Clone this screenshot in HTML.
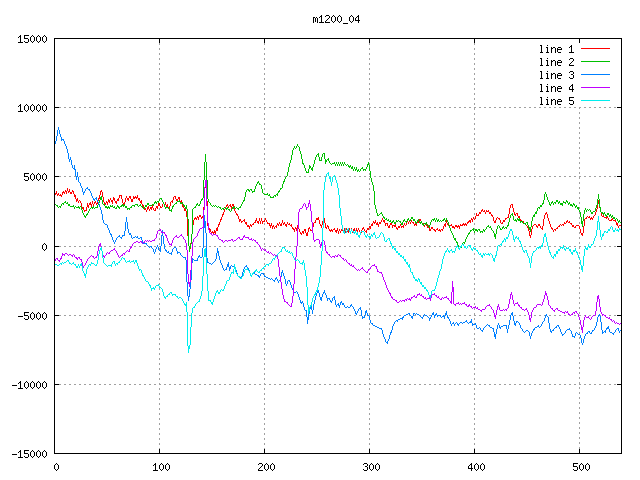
<!DOCTYPE html><html><head><meta charset="utf-8"><title>m1200_04</title>
<style>html,body{margin:0;padding:0;background:#fff;font-family:"Liberation Sans",sans-serif}svg{display:block}</style></head><body>
<svg width="640" height="480" viewBox="0 0 640 480" shape-rendering="crispEdges">
<rect width="640" height="480" fill="#fff"/>
<path d="M54 107.5H622M54 176.5H622M54 246.5H622M54 315.5H622M54 384.5H622M159.5 38V454M264.5 38V454M369.5 38V454M474.5 38V454M579.5 454V107" stroke="#a0a0a0" stroke-width="1" stroke-dasharray="2 3" fill="none"/>
<path d="M54 38h5v1h-5zM617 38h5v1h-5zM54 107h5v1h-5zM617 107h5v1h-5zM54 176h5v1h-5zM617 176h5v1h-5zM54 246h5v1h-5zM617 246h5v1h-5zM54 315h5v1h-5zM617 315h5v1h-5zM54 384h5v1h-5zM617 384h5v1h-5zM54 453h5v1h-5zM617 453h5v1h-5zM54 449h1v5h-1zM54 38h1v5h-1zM159 449h1v5h-1zM159 38h1v5h-1zM264 449h1v5h-1zM264 38h1v5h-1zM369 449h1v5h-1zM369 38h1v5h-1zM474 449h1v5h-1zM474 38h1v5h-1zM579 449h1v5h-1zM579 38h1v5h-1z" fill="#000"/>
<path d="M313 17h2v1h-2zM316 17h1v1h-1zM313 18h1v1h-1zM315 18h1v1h-1zM317 18h1v1h-1zM313 19h1v1h-1zM315 19h1v1h-1zM317 19h1v1h-1zM313 20h1v1h-1zM315 20h1v1h-1zM317 20h1v1h-1zM313 21h1v1h-1zM315 21h1v1h-1zM317 21h1v1h-1zM313 22h1v1h-1zM317 22h1v1h-1zM321 15h1v1h-1zM320 16h2v1h-2zM319 17h1v1h-1zM321 17h1v1h-1zM321 18h1v1h-1zM321 19h1v1h-1zM321 20h1v1h-1zM321 21h1v1h-1zM319 22h5v1h-5zM326 15h3v1h-3zM325 16h1v1h-1zM329 16h1v1h-1zM329 17h1v1h-1zM328 18h1v1h-1zM327 19h1v1h-1zM326 20h1v1h-1zM325 21h1v1h-1zM325 22h5v1h-5zM333 15h1v1h-1zM332 16h1v1h-1zM334 16h1v1h-1zM331 17h1v1h-1zM335 17h1v1h-1zM331 18h1v1h-1zM335 18h1v1h-1zM331 19h1v1h-1zM335 19h1v1h-1zM331 20h1v1h-1zM335 20h1v1h-1zM332 21h1v1h-1zM334 21h1v1h-1zM333 22h1v1h-1zM339 15h1v1h-1zM338 16h1v1h-1zM340 16h1v1h-1zM337 17h1v1h-1zM341 17h1v1h-1zM337 18h1v1h-1zM341 18h1v1h-1zM337 19h1v1h-1zM341 19h1v1h-1zM337 20h1v1h-1zM341 20h1v1h-1zM338 21h1v1h-1zM340 21h1v1h-1zM339 22h1v1h-1zM343 23h5v1h-5zM351 15h1v1h-1zM350 16h1v1h-1zM352 16h1v1h-1zM349 17h1v1h-1zM353 17h1v1h-1zM349 18h1v1h-1zM353 18h1v1h-1zM349 19h1v1h-1zM353 19h1v1h-1zM349 20h1v1h-1zM353 20h1v1h-1zM350 21h1v1h-1zM352 21h1v1h-1zM351 22h1v1h-1zM358 15h1v1h-1zM357 16h2v1h-2zM356 17h1v1h-1zM358 17h1v1h-1zM355 18h1v1h-1zM358 18h1v1h-1zM355 19h1v1h-1zM358 19h1v1h-1zM355 20h5v1h-5zM358 21h1v1h-1zM358 22h1v1h-1zM20 35h1v1h-1zM19 36h2v1h-2zM18 37h1v1h-1zM20 37h1v1h-1zM20 38h1v1h-1zM20 39h1v1h-1zM20 40h1v1h-1zM20 41h1v1h-1zM18 42h5v1h-5zM24 35h5v1h-5zM24 36h1v1h-1zM24 37h1v1h-1zM24 38h4v1h-4zM28 39h1v1h-1zM28 40h1v1h-1zM24 41h1v1h-1zM28 41h1v1h-1zM25 42h3v1h-3zM32 35h1v1h-1zM31 36h1v1h-1zM33 36h1v1h-1zM30 37h1v1h-1zM34 37h1v1h-1zM30 38h1v1h-1zM34 38h1v1h-1zM30 39h1v1h-1zM34 39h1v1h-1zM30 40h1v1h-1zM34 40h1v1h-1zM31 41h1v1h-1zM33 41h1v1h-1zM32 42h1v1h-1zM38 35h1v1h-1zM37 36h1v1h-1zM39 36h1v1h-1zM36 37h1v1h-1zM40 37h1v1h-1zM36 38h1v1h-1zM40 38h1v1h-1zM36 39h1v1h-1zM40 39h1v1h-1zM36 40h1v1h-1zM40 40h1v1h-1zM37 41h1v1h-1zM39 41h1v1h-1zM38 42h1v1h-1zM44 35h1v1h-1zM43 36h1v1h-1zM45 36h1v1h-1zM42 37h1v1h-1zM46 37h1v1h-1zM42 38h1v1h-1zM46 38h1v1h-1zM42 39h1v1h-1zM46 39h1v1h-1zM42 40h1v1h-1zM46 40h1v1h-1zM43 41h1v1h-1zM45 41h1v1h-1zM44 42h1v1h-1zM20 104h1v1h-1zM19 105h2v1h-2zM18 106h1v1h-1zM20 106h1v1h-1zM20 107h1v1h-1zM20 108h1v1h-1zM20 109h1v1h-1zM20 110h1v1h-1zM18 111h5v1h-5zM26 104h1v1h-1zM25 105h1v1h-1zM27 105h1v1h-1zM24 106h1v1h-1zM28 106h1v1h-1zM24 107h1v1h-1zM28 107h1v1h-1zM24 108h1v1h-1zM28 108h1v1h-1zM24 109h1v1h-1zM28 109h1v1h-1zM25 110h1v1h-1zM27 110h1v1h-1zM26 111h1v1h-1zM32 104h1v1h-1zM31 105h1v1h-1zM33 105h1v1h-1zM30 106h1v1h-1zM34 106h1v1h-1zM30 107h1v1h-1zM34 107h1v1h-1zM30 108h1v1h-1zM34 108h1v1h-1zM30 109h1v1h-1zM34 109h1v1h-1zM31 110h1v1h-1zM33 110h1v1h-1zM32 111h1v1h-1zM38 104h1v1h-1zM37 105h1v1h-1zM39 105h1v1h-1zM36 106h1v1h-1zM40 106h1v1h-1zM36 107h1v1h-1zM40 107h1v1h-1zM36 108h1v1h-1zM40 108h1v1h-1zM36 109h1v1h-1zM40 109h1v1h-1zM37 110h1v1h-1zM39 110h1v1h-1zM38 111h1v1h-1zM44 104h1v1h-1zM43 105h1v1h-1zM45 105h1v1h-1zM42 106h1v1h-1zM46 106h1v1h-1zM42 107h1v1h-1zM46 107h1v1h-1zM42 108h1v1h-1zM46 108h1v1h-1zM42 109h1v1h-1zM46 109h1v1h-1zM43 110h1v1h-1zM45 110h1v1h-1zM44 111h1v1h-1zM24 173h5v1h-5zM24 174h1v1h-1zM24 175h1v1h-1zM24 176h4v1h-4zM28 177h1v1h-1zM28 178h1v1h-1zM24 179h1v1h-1zM28 179h1v1h-1zM25 180h3v1h-3zM32 173h1v1h-1zM31 174h1v1h-1zM33 174h1v1h-1zM30 175h1v1h-1zM34 175h1v1h-1zM30 176h1v1h-1zM34 176h1v1h-1zM30 177h1v1h-1zM34 177h1v1h-1zM30 178h1v1h-1zM34 178h1v1h-1zM31 179h1v1h-1zM33 179h1v1h-1zM32 180h1v1h-1zM38 173h1v1h-1zM37 174h1v1h-1zM39 174h1v1h-1zM36 175h1v1h-1zM40 175h1v1h-1zM36 176h1v1h-1zM40 176h1v1h-1zM36 177h1v1h-1zM40 177h1v1h-1zM36 178h1v1h-1zM40 178h1v1h-1zM37 179h1v1h-1zM39 179h1v1h-1zM38 180h1v1h-1zM44 173h1v1h-1zM43 174h1v1h-1zM45 174h1v1h-1zM42 175h1v1h-1zM46 175h1v1h-1zM42 176h1v1h-1zM46 176h1v1h-1zM42 177h1v1h-1zM46 177h1v1h-1zM42 178h1v1h-1zM46 178h1v1h-1zM43 179h1v1h-1zM45 179h1v1h-1zM44 180h1v1h-1zM44 243h1v1h-1zM43 244h1v1h-1zM45 244h1v1h-1zM42 245h1v1h-1zM46 245h1v1h-1zM42 246h1v1h-1zM46 246h1v1h-1zM42 247h1v1h-1zM46 247h1v1h-1zM42 248h1v1h-1zM46 248h1v1h-1zM43 249h1v1h-1zM45 249h1v1h-1zM44 250h1v1h-1zM18 316h5v1h-5zM24 312h5v1h-5zM24 313h1v1h-1zM24 314h1v1h-1zM24 315h4v1h-4zM28 316h1v1h-1zM28 317h1v1h-1zM24 318h1v1h-1zM28 318h1v1h-1zM25 319h3v1h-3zM32 312h1v1h-1zM31 313h1v1h-1zM33 313h1v1h-1zM30 314h1v1h-1zM34 314h1v1h-1zM30 315h1v1h-1zM34 315h1v1h-1zM30 316h1v1h-1zM34 316h1v1h-1zM30 317h1v1h-1zM34 317h1v1h-1zM31 318h1v1h-1zM33 318h1v1h-1zM32 319h1v1h-1zM38 312h1v1h-1zM37 313h1v1h-1zM39 313h1v1h-1zM36 314h1v1h-1zM40 314h1v1h-1zM36 315h1v1h-1zM40 315h1v1h-1zM36 316h1v1h-1zM40 316h1v1h-1zM36 317h1v1h-1zM40 317h1v1h-1zM37 318h1v1h-1zM39 318h1v1h-1zM38 319h1v1h-1zM44 312h1v1h-1zM43 313h1v1h-1zM45 313h1v1h-1zM42 314h1v1h-1zM46 314h1v1h-1zM42 315h1v1h-1zM46 315h1v1h-1zM42 316h1v1h-1zM46 316h1v1h-1zM42 317h1v1h-1zM46 317h1v1h-1zM43 318h1v1h-1zM45 318h1v1h-1zM44 319h1v1h-1zM12 385h5v1h-5zM20 381h1v1h-1zM19 382h2v1h-2zM18 383h1v1h-1zM20 383h1v1h-1zM20 384h1v1h-1zM20 385h1v1h-1zM20 386h1v1h-1zM20 387h1v1h-1zM18 388h5v1h-5zM26 381h1v1h-1zM25 382h1v1h-1zM27 382h1v1h-1zM24 383h1v1h-1zM28 383h1v1h-1zM24 384h1v1h-1zM28 384h1v1h-1zM24 385h1v1h-1zM28 385h1v1h-1zM24 386h1v1h-1zM28 386h1v1h-1zM25 387h1v1h-1zM27 387h1v1h-1zM26 388h1v1h-1zM32 381h1v1h-1zM31 382h1v1h-1zM33 382h1v1h-1zM30 383h1v1h-1zM34 383h1v1h-1zM30 384h1v1h-1zM34 384h1v1h-1zM30 385h1v1h-1zM34 385h1v1h-1zM30 386h1v1h-1zM34 386h1v1h-1zM31 387h1v1h-1zM33 387h1v1h-1zM32 388h1v1h-1zM38 381h1v1h-1zM37 382h1v1h-1zM39 382h1v1h-1zM36 383h1v1h-1zM40 383h1v1h-1zM36 384h1v1h-1zM40 384h1v1h-1zM36 385h1v1h-1zM40 385h1v1h-1zM36 386h1v1h-1zM40 386h1v1h-1zM37 387h1v1h-1zM39 387h1v1h-1zM38 388h1v1h-1zM44 381h1v1h-1zM43 382h1v1h-1zM45 382h1v1h-1zM42 383h1v1h-1zM46 383h1v1h-1zM42 384h1v1h-1zM46 384h1v1h-1zM42 385h1v1h-1zM46 385h1v1h-1zM42 386h1v1h-1zM46 386h1v1h-1zM43 387h1v1h-1zM45 387h1v1h-1zM44 388h1v1h-1zM12 454h5v1h-5zM20 450h1v1h-1zM19 451h2v1h-2zM18 452h1v1h-1zM20 452h1v1h-1zM20 453h1v1h-1zM20 454h1v1h-1zM20 455h1v1h-1zM20 456h1v1h-1zM18 457h5v1h-5zM24 450h5v1h-5zM24 451h1v1h-1zM24 452h1v1h-1zM24 453h4v1h-4zM28 454h1v1h-1zM28 455h1v1h-1zM24 456h1v1h-1zM28 456h1v1h-1zM25 457h3v1h-3zM32 450h1v1h-1zM31 451h1v1h-1zM33 451h1v1h-1zM30 452h1v1h-1zM34 452h1v1h-1zM30 453h1v1h-1zM34 453h1v1h-1zM30 454h1v1h-1zM34 454h1v1h-1zM30 455h1v1h-1zM34 455h1v1h-1zM31 456h1v1h-1zM33 456h1v1h-1zM32 457h1v1h-1zM38 450h1v1h-1zM37 451h1v1h-1zM39 451h1v1h-1zM36 452h1v1h-1zM40 452h1v1h-1zM36 453h1v1h-1zM40 453h1v1h-1zM36 454h1v1h-1zM40 454h1v1h-1zM36 455h1v1h-1zM40 455h1v1h-1zM37 456h1v1h-1zM39 456h1v1h-1zM38 457h1v1h-1zM44 450h1v1h-1zM43 451h1v1h-1zM45 451h1v1h-1zM42 452h1v1h-1zM46 452h1v1h-1zM42 453h1v1h-1zM46 453h1v1h-1zM42 454h1v1h-1zM46 454h1v1h-1zM42 455h1v1h-1zM46 455h1v1h-1zM43 456h1v1h-1zM45 456h1v1h-1zM44 457h1v1h-1zM56 463h1v1h-1zM55 464h1v1h-1zM57 464h1v1h-1zM54 465h1v1h-1zM58 465h1v1h-1zM54 466h1v1h-1zM58 466h1v1h-1zM54 467h1v1h-1zM58 467h1v1h-1zM54 468h1v1h-1zM58 468h1v1h-1zM55 469h1v1h-1zM57 469h1v1h-1zM56 470h1v1h-1zM155 463h1v1h-1zM154 464h2v1h-2zM153 465h1v1h-1zM155 465h1v1h-1zM155 466h1v1h-1zM155 467h1v1h-1zM155 468h1v1h-1zM155 469h1v1h-1zM153 470h5v1h-5zM161 463h1v1h-1zM160 464h1v1h-1zM162 464h1v1h-1zM159 465h1v1h-1zM163 465h1v1h-1zM159 466h1v1h-1zM163 466h1v1h-1zM159 467h1v1h-1zM163 467h1v1h-1zM159 468h1v1h-1zM163 468h1v1h-1zM160 469h1v1h-1zM162 469h1v1h-1zM161 470h1v1h-1zM167 463h1v1h-1zM166 464h1v1h-1zM168 464h1v1h-1zM165 465h1v1h-1zM169 465h1v1h-1zM165 466h1v1h-1zM169 466h1v1h-1zM165 467h1v1h-1zM169 467h1v1h-1zM165 468h1v1h-1zM169 468h1v1h-1zM166 469h1v1h-1zM168 469h1v1h-1zM167 470h1v1h-1zM259 463h3v1h-3zM258 464h1v1h-1zM262 464h1v1h-1zM262 465h1v1h-1zM261 466h1v1h-1zM260 467h1v1h-1zM259 468h1v1h-1zM258 469h1v1h-1zM258 470h5v1h-5zM266 463h1v1h-1zM265 464h1v1h-1zM267 464h1v1h-1zM264 465h1v1h-1zM268 465h1v1h-1zM264 466h1v1h-1zM268 466h1v1h-1zM264 467h1v1h-1zM268 467h1v1h-1zM264 468h1v1h-1zM268 468h1v1h-1zM265 469h1v1h-1zM267 469h1v1h-1zM266 470h1v1h-1zM272 463h1v1h-1zM271 464h1v1h-1zM273 464h1v1h-1zM270 465h1v1h-1zM274 465h1v1h-1zM270 466h1v1h-1zM274 466h1v1h-1zM270 467h1v1h-1zM274 467h1v1h-1zM270 468h1v1h-1zM274 468h1v1h-1zM271 469h1v1h-1zM273 469h1v1h-1zM272 470h1v1h-1zM364 463h3v1h-3zM363 464h1v1h-1zM367 464h1v1h-1zM367 465h1v1h-1zM365 466h2v1h-2zM367 467h1v1h-1zM367 468h1v1h-1zM363 469h1v1h-1zM367 469h1v1h-1zM364 470h3v1h-3zM371 463h1v1h-1zM370 464h1v1h-1zM372 464h1v1h-1zM369 465h1v1h-1zM373 465h1v1h-1zM369 466h1v1h-1zM373 466h1v1h-1zM369 467h1v1h-1zM373 467h1v1h-1zM369 468h1v1h-1zM373 468h1v1h-1zM370 469h1v1h-1zM372 469h1v1h-1zM371 470h1v1h-1zM377 463h1v1h-1zM376 464h1v1h-1zM378 464h1v1h-1zM375 465h1v1h-1zM379 465h1v1h-1zM375 466h1v1h-1zM379 466h1v1h-1zM375 467h1v1h-1zM379 467h1v1h-1zM375 468h1v1h-1zM379 468h1v1h-1zM376 469h1v1h-1zM378 469h1v1h-1zM377 470h1v1h-1zM471 463h1v1h-1zM470 464h2v1h-2zM469 465h1v1h-1zM471 465h1v1h-1zM468 466h1v1h-1zM471 466h1v1h-1zM468 467h1v1h-1zM471 467h1v1h-1zM468 468h5v1h-5zM471 469h1v1h-1zM471 470h1v1h-1zM476 463h1v1h-1zM475 464h1v1h-1zM477 464h1v1h-1zM474 465h1v1h-1zM478 465h1v1h-1zM474 466h1v1h-1zM478 466h1v1h-1zM474 467h1v1h-1zM478 467h1v1h-1zM474 468h1v1h-1zM478 468h1v1h-1zM475 469h1v1h-1zM477 469h1v1h-1zM476 470h1v1h-1zM482 463h1v1h-1zM481 464h1v1h-1zM483 464h1v1h-1zM480 465h1v1h-1zM484 465h1v1h-1zM480 466h1v1h-1zM484 466h1v1h-1zM480 467h1v1h-1zM484 467h1v1h-1zM480 468h1v1h-1zM484 468h1v1h-1zM481 469h1v1h-1zM483 469h1v1h-1zM482 470h1v1h-1zM573 463h5v1h-5zM573 464h1v1h-1zM573 465h1v1h-1zM573 466h4v1h-4zM577 467h1v1h-1zM577 468h1v1h-1zM573 469h1v1h-1zM577 469h1v1h-1zM574 470h3v1h-3zM581 463h1v1h-1zM580 464h1v1h-1zM582 464h1v1h-1zM579 465h1v1h-1zM583 465h1v1h-1zM579 466h1v1h-1zM583 466h1v1h-1zM579 467h1v1h-1zM583 467h1v1h-1zM579 468h1v1h-1zM583 468h1v1h-1zM580 469h1v1h-1zM582 469h1v1h-1zM581 470h1v1h-1zM587 463h1v1h-1zM586 464h1v1h-1zM588 464h1v1h-1zM585 465h1v1h-1zM589 465h1v1h-1zM585 466h1v1h-1zM589 466h1v1h-1zM585 467h1v1h-1zM589 467h1v1h-1zM585 468h1v1h-1zM589 468h1v1h-1zM586 469h1v1h-1zM588 469h1v1h-1zM587 470h1v1h-1zM540 45h2v1h-2zM541 46h1v1h-1zM541 47h1v1h-1zM541 48h1v1h-1zM541 49h1v1h-1zM541 50h1v1h-1zM541 51h1v1h-1zM540 52h3v1h-3zM547 45h1v1h-1zM546 47h2v1h-2zM547 48h1v1h-1zM547 49h1v1h-1zM547 50h1v1h-1zM547 51h1v1h-1zM546 52h3v1h-3zM551 47h1v1h-1zM553 47h2v1h-2zM551 48h2v1h-2zM555 48h1v1h-1zM551 49h1v1h-1zM555 49h1v1h-1zM551 50h1v1h-1zM555 50h1v1h-1zM551 51h1v1h-1zM555 51h1v1h-1zM551 52h1v1h-1zM555 52h1v1h-1zM558 47h3v1h-3zM557 48h1v1h-1zM561 48h1v1h-1zM557 49h5v1h-5zM557 50h1v1h-1zM557 51h1v1h-1zM558 52h3v1h-3zM571 45h1v1h-1zM570 46h2v1h-2zM569 47h1v1h-1zM571 47h1v1h-1zM571 48h1v1h-1zM571 49h1v1h-1zM571 50h1v1h-1zM571 51h1v1h-1zM569 52h5v1h-5zM540 58h2v1h-2zM541 59h1v1h-1zM541 60h1v1h-1zM541 61h1v1h-1zM541 62h1v1h-1zM541 63h1v1h-1zM541 64h1v1h-1zM540 65h3v1h-3zM547 58h1v1h-1zM546 60h2v1h-2zM547 61h1v1h-1zM547 62h1v1h-1zM547 63h1v1h-1zM547 64h1v1h-1zM546 65h3v1h-3zM551 60h1v1h-1zM553 60h2v1h-2zM551 61h2v1h-2zM555 61h1v1h-1zM551 62h1v1h-1zM555 62h1v1h-1zM551 63h1v1h-1zM555 63h1v1h-1zM551 64h1v1h-1zM555 64h1v1h-1zM551 65h1v1h-1zM555 65h1v1h-1zM558 60h3v1h-3zM557 61h1v1h-1zM561 61h1v1h-1zM557 62h5v1h-5zM557 63h1v1h-1zM557 64h1v1h-1zM558 65h3v1h-3zM570 58h3v1h-3zM569 59h1v1h-1zM573 59h1v1h-1zM573 60h1v1h-1zM572 61h1v1h-1zM571 62h1v1h-1zM570 63h1v1h-1zM569 64h1v1h-1zM569 65h5v1h-5zM540 71h2v1h-2zM541 72h1v1h-1zM541 73h1v1h-1zM541 74h1v1h-1zM541 75h1v1h-1zM541 76h1v1h-1zM541 77h1v1h-1zM540 78h3v1h-3zM547 71h1v1h-1zM546 73h2v1h-2zM547 74h1v1h-1zM547 75h1v1h-1zM547 76h1v1h-1zM547 77h1v1h-1zM546 78h3v1h-3zM551 73h1v1h-1zM553 73h2v1h-2zM551 74h2v1h-2zM555 74h1v1h-1zM551 75h1v1h-1zM555 75h1v1h-1zM551 76h1v1h-1zM555 76h1v1h-1zM551 77h1v1h-1zM555 77h1v1h-1zM551 78h1v1h-1zM555 78h1v1h-1zM558 73h3v1h-3zM557 74h1v1h-1zM561 74h1v1h-1zM557 75h5v1h-5zM557 76h1v1h-1zM557 77h1v1h-1zM558 78h3v1h-3zM570 71h3v1h-3zM569 72h1v1h-1zM573 72h1v1h-1zM573 73h1v1h-1zM571 74h2v1h-2zM573 75h1v1h-1zM573 76h1v1h-1zM569 77h1v1h-1zM573 77h1v1h-1zM570 78h3v1h-3zM540 84h2v1h-2zM541 85h1v1h-1zM541 86h1v1h-1zM541 87h1v1h-1zM541 88h1v1h-1zM541 89h1v1h-1zM541 90h1v1h-1zM540 91h3v1h-3zM547 84h1v1h-1zM546 86h2v1h-2zM547 87h1v1h-1zM547 88h1v1h-1zM547 89h1v1h-1zM547 90h1v1h-1zM546 91h3v1h-3zM551 86h1v1h-1zM553 86h2v1h-2zM551 87h2v1h-2zM555 87h1v1h-1zM551 88h1v1h-1zM555 88h1v1h-1zM551 89h1v1h-1zM555 89h1v1h-1zM551 90h1v1h-1zM555 90h1v1h-1zM551 91h1v1h-1zM555 91h1v1h-1zM558 86h3v1h-3zM557 87h1v1h-1zM561 87h1v1h-1zM557 88h5v1h-5zM557 89h1v1h-1zM557 90h1v1h-1zM558 91h3v1h-3zM572 84h1v1h-1zM571 85h2v1h-2zM570 86h1v1h-1zM572 86h1v1h-1zM569 87h1v1h-1zM572 87h1v1h-1zM569 88h1v1h-1zM572 88h1v1h-1zM569 89h5v1h-5zM572 90h1v1h-1zM572 91h1v1h-1zM540 97h2v1h-2zM541 98h1v1h-1zM541 99h1v1h-1zM541 100h1v1h-1zM541 101h1v1h-1zM541 102h1v1h-1zM541 103h1v1h-1zM540 104h3v1h-3zM547 97h1v1h-1zM546 99h2v1h-2zM547 100h1v1h-1zM547 101h1v1h-1zM547 102h1v1h-1zM547 103h1v1h-1zM546 104h3v1h-3zM551 99h1v1h-1zM553 99h2v1h-2zM551 100h2v1h-2zM555 100h1v1h-1zM551 101h1v1h-1zM555 101h1v1h-1zM551 102h1v1h-1zM555 102h1v1h-1zM551 103h1v1h-1zM555 103h1v1h-1zM551 104h1v1h-1zM555 104h1v1h-1zM558 99h3v1h-3zM557 100h1v1h-1zM561 100h1v1h-1zM557 101h5v1h-5zM557 102h1v1h-1zM557 103h1v1h-1zM558 104h3v1h-3zM569 97h5v1h-5zM569 98h1v1h-1zM569 99h1v1h-1zM569 100h4v1h-4zM573 101h1v1h-1zM573 102h1v1h-1zM569 103h1v1h-1zM573 103h1v1h-1zM570 104h3v1h-3z" fill="#000"/>
<path d="M581 48h29v1h-29zM54 194h1v1h-1zM55 193h1v2h-1zM56 191h1v3h-1zM57 194h1v2h-1zM58 193h1v2h-1zM59 195h1v1h-1zM60 194h1v2h-1zM61 195h1v2h-1zM62 192h1v3h-1zM63 191h1v2h-1zM64 192h1v2h-1zM65 190h1v2h-1zM66 191h1v3h-1zM67 188h1v3h-1zM68 191h1v2h-1zM69 189h1v3h-1zM70 192h1v2h-1zM71 192h1v2h-1zM72 190h1v2h-1zM73 191h1v3h-1zM74 194h1v3h-1zM75 195h1v4h-1zM76 199h1v3h-1zM77 198h1v3h-1zM78 201h1v2h-1zM79 200h1v1h-1zM80 201h1v2h-1zM81 203h1v4h-1zM82 207h1v2h-1zM83 207h1v3h-1zM84 210h1v2h-1zM85 210h1v1h-1zM86 207h1v4h-1zM87 203h1v4h-1zM88 205h1v3h-1zM89 203h1v2h-1zM90 202h1v3h-1zM91 204h1v3h-1zM92 201h1v3h-1zM93 204h1v3h-1zM94 202h1v2h-1zM95 201h1v2h-1zM96 203h1v2h-1zM97 201h1v3h-1zM98 198h1v3h-1zM99 195h1v4h-1zM100 191h1v4h-1zM101 190h1v2h-1zM102 192h1v5h-1zM103 197h1v5h-1zM104 202h1v2h-1zM105 203h1v2h-1zM106 201h1v2h-1zM107 202h1v3h-1zM108 199h1v3h-1zM109 200h1v3h-1zM110 198h1v2h-1zM111 200h1v2h-1zM112 200h1v4h-1zM113 197h1v3h-1zM114 198h1v3h-1zM115 201h1v2h-1zM116 201h1v3h-1zM117 199h1v2h-1zM118 198h1v3h-1zM119 195h1v3h-1zM120 195h1v1h-1zM121 195h1v4h-1zM122 199h1v4h-1zM123 203h1v2h-1zM124 202h1v4h-1zM125 198h1v4h-1zM126 196h1v2h-1zM127 198h1v2h-1zM128 198h1v3h-1zM129 196h1v2h-1zM130 196h1v3h-1zM131 199h1v3h-1zM132 199h1v3h-1zM133 196h1v3h-1zM134 197h1v2h-1zM135 196h1v2h-1zM136 197h1v2h-1zM137 195h1v3h-1zM138 198h1v2h-1zM139 198h1v3h-1zM140 201h1v2h-1zM141 200h1v4h-1zM142 204h1v3h-1zM143 205h1v3h-1zM144 208h1v2h-1zM145 208h1v2h-1zM146 210h1v2h-1zM147 207h1v3h-1zM148 206h1v3h-1zM149 209h1v2h-1zM150 207h1v2h-1zM151 207h1v3h-1zM152 205h1v3h-1zM153 208h1v2h-1zM154 210h1v1h-1zM155 208h1v3h-1zM156 206h1v2h-1zM157 206h1v3h-1zM158 203h1v3h-1zM159 203h1v3h-1zM160 206h1v2h-1zM161 207h1v1h-1zM162 204h1v3h-1zM163 202h1v2h-1zM164 204h1v2h-1zM165 202h1v3h-1zM166 205h1v2h-1zM167 204h1v3h-1zM168 207h1v2h-1zM169 206h1v3h-1zM170 202h1v4h-1zM171 201h1v1h-1zM172 200h1v3h-1zM173 197h1v3h-1zM174 196h1v1h-1zM175 196h1v3h-1zM176 199h1v2h-1zM177 199h1v3h-1zM178 197h1v2h-1zM179 197h1v4h-1zM180 201h1v3h-1zM181 200h1v4h-1zM182 204h1v3h-1zM183 204h1v4h-1zM184 208h1v3h-1zM185 209h1v2h-1zM186 211h1v6h-1zM187 217h1v19h-1zM188 236h1v10h-1zM189 246h1v5h-1zM190 243h1v6h-1zM191 234h1v9h-1zM192 225h1v9h-1zM193 220h1v5h-1zM194 218h1v2h-1zM195 217h1v2h-1zM196 218h1v2h-1zM197 216h1v2h-1zM198 217h1v3h-1zM199 215h1v2h-1zM200 215h1v2h-1zM201 217h1v2h-1zM202 216h1v2h-1zM203 207h1v9h-1zM204 188h1v19h-1zM205 187h1v1h-1zM206 188h1v13h-1zM207 201h1v25h-1zM208 226h1v2h-1zM209 228h1v2h-1zM210 229h1v3h-1zM211 232h1v2h-1zM212 231h1v2h-1zM213 232h1v2h-1zM214 230h1v3h-1zM215 231h1v4h-1zM216 228h1v3h-1zM217 227h1v4h-1zM218 224h1v3h-1zM219 222h1v3h-1zM220 219h1v3h-1zM221 217h1v3h-1zM222 214h1v3h-1zM223 212h1v3h-1zM224 209h1v3h-1zM225 207h1v2h-1zM226 205h1v2h-1zM227 204h1v2h-1zM228 206h1v2h-1zM229 205h1v1h-1zM230 204h1v3h-1zM231 206h1v3h-1zM232 204h1v2h-1zM233 204h1v3h-1zM234 207h1v4h-1zM235 211h1v2h-1zM236 213h1v2h-1zM237 214h1v2h-1zM238 216h1v3h-1zM239 219h1v3h-1zM240 219h1v2h-1zM241 221h1v2h-1zM242 221h1v1h-1zM243 220h1v1h-1zM244 219h1v3h-1zM245 222h1v2h-1zM246 222h1v3h-1zM247 225h1v2h-1zM248 225h1v2h-1zM249 226h1v3h-1zM250 224h1v2h-1zM251 225h1v2h-1zM252 224h1v1h-1zM253 223h1v2h-1zM254 222h1v1h-1zM255 220h1v3h-1zM256 218h1v3h-1zM257 221h1v2h-1zM258 221h1v3h-1zM259 218h1v3h-1zM260 221h1v3h-1zM261 218h1v3h-1zM262 221h1v3h-1zM263 221h1v1h-1zM264 220h1v2h-1zM265 218h1v2h-1zM266 220h1v2h-1zM267 222h1v2h-1zM268 223h1v1h-1zM269 223h1v3h-1zM270 225h1v3h-1zM271 223h1v3h-1zM272 226h1v3h-1zM273 225h1v2h-1zM274 227h1v2h-1zM275 226h1v1h-1zM276 225h1v3h-1zM277 223h1v2h-1zM278 224h1v2h-1zM279 222h1v2h-1zM280 224h1v2h-1zM281 223h1v3h-1zM282 220h1v3h-1zM283 223h1v2h-1zM284 222h1v2h-1zM285 224h1v2h-1zM286 224h1v3h-1zM287 222h1v2h-1zM288 224h1v1h-1zM289 223h1v2h-1zM290 225h1v1h-1zM291 224h1v3h-1zM292 227h1v2h-1zM293 228h1v2h-1zM294 229h1v3h-1zM295 227h1v2h-1zM296 228h1v3h-1zM297 225h1v3h-1zM298 226h1v3h-1zM299 229h1v3h-1zM300 232h1v2h-1zM301 233h1v2h-1zM302 231h1v2h-1zM303 231h1v3h-1zM304 229h1v2h-1zM305 229h1v4h-1zM306 233h1v3h-1zM307 232h1v4h-1zM308 228h1v4h-1zM309 227h1v2h-1zM310 229h1v2h-1zM311 230h1v1h-1zM312 227h1v4h-1zM313 223h1v4h-1zM314 222h1v1h-1zM315 220h1v3h-1zM316 218h1v2h-1zM317 218h1v2h-1zM318 217h1v3h-1zM319 220h1v4h-1zM320 224h1v2h-1zM321 225h1v3h-1zM322 221h1v4h-1zM323 219h1v2h-1zM324 218h1v5h-1zM325 223h1v5h-1zM326 227h1v2h-1zM327 225h1v2h-1zM328 226h1v3h-1zM329 229h1v2h-1zM330 230h1v2h-1zM331 229h1v2h-1zM332 230h1v2h-1zM333 229h1v1h-1zM334 228h1v2h-1zM335 230h1v2h-1zM336 230h1v3h-1zM337 228h1v3h-1zM338 231h1v3h-1zM339 229h1v2h-1zM340 231h1v2h-1zM341 229h1v2h-1zM342 228h1v3h-1zM343 230h1v3h-1zM344 228h1v3h-1zM345 230h1v3h-1zM346 228h1v2h-1zM347 230h1v2h-1zM348 230h1v3h-1zM349 228h1v3h-1zM350 231h1v3h-1zM351 228h1v3h-1zM352 231h1v2h-1zM353 229h1v2h-1zM354 228h1v3h-1zM355 230h1v3h-1zM356 228h1v3h-1zM357 230h1v3h-1zM358 228h1v2h-1zM359 230h1v2h-1zM360 232h1v1h-1zM361 230h1v3h-1zM362 228h1v2h-1zM363 227h1v2h-1zM364 229h1v2h-1zM365 231h1v1h-1zM366 230h1v3h-1zM367 228h1v2h-1zM368 228h1v2h-1zM369 226h1v2h-1zM370 226h1v3h-1zM371 224h1v2h-1zM372 223h1v3h-1zM373 221h1v2h-1zM374 222h1v2h-1zM375 220h1v3h-1zM376 223h1v2h-1zM377 222h1v3h-1zM378 224h1v3h-1zM379 222h1v2h-1zM380 222h1v2h-1zM381 220h1v2h-1zM382 218h1v2h-1zM383 220h1v2h-1zM384 220h1v3h-1zM385 223h1v3h-1zM386 223h1v1h-1zM387 223h1v3h-1zM388 226h1v2h-1zM389 225h1v3h-1zM390 223h1v2h-1zM391 222h1v3h-1zM392 225h1v3h-1zM393 225h1v1h-1zM394 225h1v2h-1zM395 224h1v3h-1zM396 227h1v2h-1zM397 228h1v2h-1zM398 226h1v2h-1zM399 226h1v2h-1zM400 224h1v2h-1zM401 226h1v2h-1zM402 226h1v1h-1zM403 225h1v3h-1zM404 223h1v2h-1zM405 225h1v1h-1zM406 222h1v3h-1zM407 220h1v2h-1zM408 222h1v2h-1zM409 220h1v2h-1zM410 222h1v2h-1zM411 220h1v2h-1zM412 222h1v1h-1zM413 222h1v2h-1zM414 224h1v2h-1zM415 223h1v2h-1zM416 223h1v3h-1zM417 220h1v3h-1zM418 221h1v2h-1zM419 219h1v2h-1zM420 219h1v2h-1zM421 221h1v2h-1zM422 223h1v2h-1zM423 223h1v2h-1zM424 225h1v2h-1zM425 223h1v2h-1zM426 223h1v3h-1zM427 226h1v2h-1zM428 225h1v3h-1zM429 228h1v3h-1zM430 229h1v2h-1zM431 227h1v2h-1zM432 227h1v2h-1zM433 229h1v1h-1zM434 229h1v2h-1zM435 230h1v2h-1zM436 229h1v1h-1zM437 228h1v2h-1zM438 230h1v1h-1zM439 229h1v2h-1zM440 230h1v2h-1zM441 229h1v1h-1zM442 229h1v2h-1zM443 226h1v3h-1zM444 224h1v2h-1zM445 223h1v4h-1zM446 220h1v3h-1zM447 223h1v2h-1zM448 224h1v2h-1zM449 226h1v2h-1zM450 225h1v1h-1zM451 224h1v2h-1zM452 226h1v2h-1zM453 226h1v2h-1zM454 227h1v2h-1zM455 225h1v2h-1zM456 225h1v2h-1zM457 226h1v2h-1zM458 225h1v2h-1zM459 226h1v3h-1zM460 224h1v2h-1zM461 225h1v1h-1zM462 224h1v2h-1zM463 223h1v2h-1zM464 224h1v2h-1zM465 223h1v2h-1zM466 224h1v2h-1zM467 222h1v2h-1zM468 221h1v2h-1zM469 220h1v2h-1zM470 220h1v3h-1zM471 218h1v2h-1zM472 219h1v3h-1zM473 217h1v2h-1zM474 219h1v1h-1zM475 216h1v3h-1zM476 213h1v3h-1zM477 215h1v1h-1zM478 214h1v2h-1zM479 212h1v2h-1zM480 212h1v2h-1zM481 210h1v2h-1zM482 209h1v2h-1zM483 211h1v1h-1zM484 210h1v2h-1zM485 212h1v2h-1zM486 210h1v2h-1zM487 211h1v1h-1zM488 210h1v2h-1zM489 212h1v2h-1zM490 212h1v2h-1zM491 214h1v2h-1zM492 215h1v2h-1zM493 217h1v4h-1zM494 221h1v2h-1zM495 220h1v3h-1zM496 218h1v2h-1zM497 217h1v1h-1zM498 218h1v1h-1zM499 218h1v2h-1zM500 220h1v3h-1zM501 223h1v1h-1zM502 222h1v2h-1zM503 220h1v2h-1zM504 220h1v2h-1zM505 218h1v2h-1zM506 218h1v1h-1zM507 217h1v1h-1zM508 214h1v4h-1zM509 208h1v6h-1zM510 205h1v3h-1zM511 204h1v1h-1zM512 204h1v4h-1zM513 208h1v4h-1zM514 212h1v3h-1zM515 214h1v2h-1zM516 213h1v1h-1zM517 213h1v3h-1zM518 216h1v2h-1zM519 216h1v3h-1zM520 219h1v2h-1zM521 220h1v1h-1zM522 221h1v1h-1zM523 221h1v2h-1zM524 223h1v1h-1zM525 223h1v2h-1zM526 225h1v1h-1zM527 226h1v2h-1zM528 228h1v3h-1zM529 231h1v5h-1zM530 235h1v3h-1zM531 229h1v6h-1zM532 226h1v3h-1zM533 225h1v1h-1zM534 224h1v1h-1zM535 224h1v1h-1zM536 225h1v2h-1zM537 226h1v2h-1zM538 224h1v2h-1zM539 224h1v2h-1zM540 226h1v2h-1zM541 228h1v1h-1zM542 226h1v4h-1zM543 219h1v7h-1zM544 215h1v4h-1zM545 213h1v2h-1zM546 212h1v2h-1zM547 214h1v4h-1zM548 218h1v3h-1zM549 221h1v3h-1zM550 224h1v3h-1zM551 227h1v2h-1zM552 228h1v2h-1zM553 230h1v2h-1zM554 229h1v1h-1zM555 229h1v2h-1zM556 228h1v1h-1zM557 227h1v2h-1zM558 226h1v1h-1zM559 225h1v2h-1zM560 224h1v1h-1zM561 225h1v1h-1zM562 224h1v1h-1zM563 224h1v2h-1zM564 222h1v2h-1zM565 223h1v1h-1zM566 221h1v2h-1zM567 220h1v2h-1zM568 222h1v1h-1zM569 221h1v2h-1zM570 223h1v1h-1zM571 223h1v2h-1zM572 225h1v2h-1zM573 225h1v2h-1zM574 227h1v1h-1zM575 226h1v2h-1zM576 225h1v1h-1zM577 225h1v1h-1zM578 225h1v1h-1zM579 226h1v3h-1zM580 229h1v4h-1zM581 233h1v2h-1zM582 233h1v3h-1zM583 226h1v7h-1zM584 219h1v7h-1zM585 218h1v1h-1zM586 217h1v2h-1zM587 216h1v1h-1zM588 217h1v1h-1zM589 216h1v2h-1zM590 218h1v2h-1zM591 217h1v2h-1zM592 218h1v2h-1zM593 216h1v2h-1zM594 215h1v1h-1zM595 212h1v3h-1zM596 209h1v3h-1zM597 204h1v5h-1zM598 200h1v4h-1zM599 204h1v4h-1zM600 208h1v4h-1zM601 212h1v4h-1zM602 216h1v1h-1zM603 215h1v2h-1zM604 217h1v1h-1zM605 217h1v1h-1zM606 217h1v2h-1zM607 216h1v2h-1zM608 218h1v2h-1zM609 220h1v1h-1zM610 220h1v1h-1zM611 219h1v2h-1zM612 218h1v2h-1zM613 220h1v1h-1zM614 220h1v1h-1zM615 219h1v3h-1zM616 222h1v3h-1zM617 223h1v3h-1zM618 226h1v2h-1zM619 225h1v1h-1zM620 225h1v1h-1z" fill="#ff0000"/>
<path d="M581 61h29v1h-29zM54 203h1v1h-1zM55 204h1v1h-1zM56 205h1v1h-1zM57 205h1v2h-1zM58 207h1v1h-1zM59 206h1v1h-1zM60 206h1v2h-1zM61 204h1v2h-1zM62 203h1v1h-1zM63 203h1v2h-1zM64 202h1v1h-1zM65 201h1v2h-1zM66 203h1v1h-1zM67 202h1v2h-1zM68 204h1v2h-1zM69 204h1v2h-1zM70 206h1v1h-1zM71 206h1v1h-1zM72 206h1v1h-1zM73 205h1v2h-1zM74 207h1v2h-1zM75 206h1v1h-1zM76 207h1v1h-1zM77 207h1v1h-1zM78 206h1v2h-1zM79 207h1v2h-1zM80 206h1v1h-1zM81 207h1v3h-1zM82 210h1v3h-1zM83 213h1v2h-1zM84 215h1v2h-1zM85 216h1v2h-1zM86 214h1v2h-1zM87 213h1v2h-1zM88 211h1v2h-1zM89 209h1v2h-1zM90 208h1v1h-1zM91 207h1v1h-1zM92 207h1v2h-1zM93 206h1v2h-1zM94 208h1v1h-1zM95 207h1v1h-1zM96 207h1v1h-1zM97 205h1v3h-1zM98 203h1v2h-1zM99 200h1v3h-1zM100 197h1v3h-1zM101 196h1v4h-1zM102 200h1v4h-1zM103 204h1v1h-1zM104 204h1v2h-1zM105 206h1v2h-1zM106 206h1v2h-1zM107 207h1v2h-1zM108 206h1v2h-1zM109 207h1v2h-1zM110 205h1v2h-1zM111 206h1v1h-1zM112 205h1v2h-1zM113 207h1v1h-1zM114 206h1v2h-1zM115 208h1v1h-1zM116 207h1v2h-1zM117 205h1v2h-1zM118 206h1v2h-1zM119 207h1v2h-1zM120 206h1v1h-1zM121 205h1v2h-1zM122 204h1v2h-1zM123 205h1v2h-1zM124 204h1v2h-1zM125 206h1v2h-1zM126 206h1v2h-1zM127 208h1v2h-1zM128 208h1v1h-1zM129 208h1v2h-1zM130 207h1v1h-1zM131 206h1v2h-1zM132 205h1v1h-1zM133 205h1v1h-1zM134 205h1v2h-1zM135 204h1v1h-1zM136 204h1v1h-1zM137 204h1v2h-1zM138 206h1v1h-1zM139 205h1v1h-1zM140 204h1v2h-1zM141 206h1v1h-1zM142 206h1v2h-1zM143 208h1v1h-1zM144 207h1v2h-1zM145 205h1v2h-1zM146 205h1v2h-1zM147 203h1v2h-1zM148 203h1v2h-1zM149 205h1v1h-1zM150 205h1v1h-1zM151 205h1v1h-1zM152 204h1v1h-1zM153 204h1v2h-1zM154 202h1v2h-1zM155 201h1v2h-1zM156 202h1v2h-1zM157 201h1v1h-1zM158 201h1v2h-1zM159 199h1v2h-1zM160 198h1v1h-1zM161 198h1v2h-1zM162 200h1v2h-1zM163 202h1v2h-1zM164 204h1v3h-1zM165 207h1v2h-1zM166 207h1v1h-1zM167 207h1v1h-1zM168 207h1v2h-1zM169 209h1v2h-1zM170 210h1v1h-1zM171 209h1v3h-1zM172 206h1v3h-1zM173 205h1v2h-1zM174 204h1v1h-1zM175 203h1v1h-1zM176 202h1v2h-1zM177 201h1v1h-1zM178 201h1v1h-1zM179 200h1v2h-1zM180 202h1v2h-1zM181 203h1v1h-1zM182 202h1v2h-1zM183 204h1v2h-1zM184 205h1v2h-1zM185 207h1v2h-1zM186 205h1v4h-1zM187 209h1v10h-1zM188 219h1v27h-1zM189 246h1v6h-1zM190 244h1v4h-1zM191 234h1v10h-1zM192 209h1v25h-1zM193 208h1v1h-1zM194 207h1v1h-1zM195 206h1v2h-1zM196 204h1v2h-1zM197 203h1v2h-1zM198 205h1v1h-1zM199 204h1v2h-1zM200 201h1v3h-1zM201 199h1v2h-1zM202 198h1v2h-1zM203 180h1v18h-1zM204 162h1v18h-1zM205 154h1v8h-1zM206 162h1v18h-1zM207 180h1v19h-1zM208 199h1v3h-1zM209 202h1v1h-1zM210 203h1v2h-1zM211 205h1v1h-1zM212 206h1v1h-1zM213 205h1v1h-1zM214 206h1v1h-1zM215 205h1v1h-1zM216 206h1v1h-1zM217 207h1v1h-1zM218 206h1v1h-1zM219 207h1v1h-1zM220 207h1v2h-1zM221 209h1v1h-1zM222 208h1v1h-1zM223 208h1v2h-1zM224 207h1v1h-1zM225 208h1v1h-1zM226 208h1v2h-1zM227 207h1v2h-1zM228 209h1v1h-1zM229 209h1v2h-1zM230 211h1v1h-1zM231 209h1v2h-1zM232 207h1v2h-1zM233 207h1v2h-1zM234 206h1v2h-1zM235 208h1v1h-1zM236 207h1v1h-1zM237 208h1v1h-1zM238 208h1v2h-1zM239 207h1v1h-1zM240 206h1v2h-1zM241 204h1v2h-1zM242 202h1v2h-1zM243 200h1v2h-1zM244 197h1v4h-1zM245 192h1v5h-1zM246 190h1v2h-1zM247 189h1v1h-1zM248 189h1v2h-1zM249 190h1v2h-1zM250 189h1v1h-1zM251 189h1v2h-1zM252 191h1v2h-1zM253 191h1v1h-1zM254 189h1v3h-1zM255 186h1v3h-1zM256 184h1v2h-1zM257 182h1v2h-1zM258 181h1v2h-1zM259 183h1v2h-1zM260 184h1v1h-1zM261 185h1v4h-1zM262 189h1v4h-1zM263 193h1v1h-1zM264 194h1v1h-1zM265 194h1v1h-1zM266 194h1v1h-1zM267 193h1v2h-1zM268 195h1v1h-1zM269 194h1v2h-1zM270 196h1v2h-1zM271 197h1v1h-1zM272 197h1v1h-1zM273 196h1v2h-1zM274 195h1v1h-1zM275 195h1v2h-1zM276 194h1v1h-1zM277 193h1v3h-1zM278 191h1v2h-1zM279 190h1v2h-1zM280 188h1v2h-1zM281 188h1v1h-1zM282 184h1v4h-1zM283 181h1v3h-1zM284 179h1v3h-1zM285 177h1v2h-1zM286 176h1v1h-1zM287 172h1v4h-1zM288 167h1v5h-1zM289 163h1v4h-1zM290 160h1v3h-1zM291 155h1v5h-1zM292 150h1v5h-1zM293 148h1v2h-1zM294 146h1v2h-1zM295 148h1v1h-1zM296 146h1v2h-1zM297 144h1v2h-1zM298 146h1v1h-1zM299 147h1v4h-1zM300 151h1v3h-1zM301 154h1v5h-1zM302 159h1v5h-1zM303 163h1v2h-1zM304 165h1v3h-1zM305 168h1v3h-1zM306 171h1v2h-1zM307 172h1v1h-1zM308 169h1v4h-1zM309 165h1v4h-1zM310 166h1v2h-1zM311 168h1v2h-1zM312 167h1v4h-1zM313 164h1v3h-1zM314 160h1v4h-1zM315 157h1v3h-1zM316 155h1v2h-1zM317 154h1v1h-1zM318 153h1v4h-1zM319 157h1v4h-1zM320 160h1v1h-1zM321 157h1v4h-1zM322 154h1v3h-1zM323 153h1v1h-1zM324 153h1v6h-1zM325 159h1v5h-1zM326 160h1v2h-1zM327 159h1v1h-1zM328 158h1v3h-1zM329 161h1v2h-1zM330 163h1v1h-1zM331 164h1v1h-1zM332 163h1v1h-1zM333 163h1v1h-1zM334 162h1v2h-1zM335 164h1v2h-1zM336 162h1v2h-1zM337 164h1v2h-1zM338 162h1v2h-1zM339 164h1v2h-1zM340 162h1v2h-1zM341 164h1v2h-1zM342 162h1v2h-1zM343 164h1v2h-1zM344 162h1v2h-1zM345 164h1v1h-1zM346 165h1v1h-1zM347 164h1v1h-1zM348 165h1v2h-1zM349 166h1v2h-1zM350 165h1v2h-1zM351 167h1v2h-1zM352 166h1v3h-1zM353 169h1v2h-1zM354 167h1v2h-1zM355 169h1v2h-1zM356 167h1v3h-1zM357 170h1v2h-1zM358 169h1v2h-1zM359 171h1v1h-1zM360 169h1v2h-1zM361 168h1v1h-1zM362 167h1v2h-1zM363 169h1v2h-1zM364 169h1v1h-1zM365 169h1v2h-1zM366 167h1v2h-1zM367 164h1v3h-1zM368 162h1v3h-1zM369 165h1v6h-1zM370 171h1v7h-1zM371 178h1v4h-1zM372 182h1v3h-1zM373 185h1v6h-1zM374 191h1v14h-1zM375 205h1v4h-1zM376 209h1v4h-1zM377 213h1v3h-1zM378 215h1v1h-1zM379 214h1v1h-1zM380 213h1v1h-1zM381 212h1v2h-1zM382 214h1v2h-1zM383 216h1v2h-1zM384 217h1v2h-1zM385 219h1v1h-1zM386 218h1v2h-1zM387 220h1v1h-1zM388 219h1v2h-1zM389 221h1v1h-1zM390 220h1v2h-1zM391 222h1v1h-1zM392 221h1v2h-1zM393 220h1v2h-1zM394 222h1v2h-1zM395 222h1v2h-1zM396 220h1v2h-1zM397 221h1v1h-1zM398 220h1v1h-1zM399 221h1v1h-1zM400 221h1v2h-1zM401 223h1v2h-1zM402 222h1v3h-1zM403 220h1v2h-1zM404 219h1v2h-1zM405 221h1v1h-1zM406 221h1v2h-1zM407 219h1v2h-1zM408 218h1v2h-1zM409 220h1v1h-1zM410 219h1v2h-1zM411 217h1v2h-1zM412 217h1v2h-1zM413 219h1v2h-1zM414 219h1v2h-1zM415 221h1v2h-1zM416 222h1v2h-1zM417 220h1v2h-1zM418 219h1v2h-1zM419 221h1v2h-1zM420 222h1v2h-1zM421 221h1v2h-1zM422 223h1v2h-1zM423 224h1v2h-1zM424 223h1v1h-1zM425 223h1v2h-1zM426 222h1v2h-1zM427 224h1v2h-1zM428 226h1v1h-1zM429 225h1v3h-1zM430 222h1v3h-1zM431 220h1v2h-1zM432 219h1v1h-1zM433 219h1v2h-1zM434 218h1v2h-1zM435 220h1v2h-1zM436 218h1v2h-1zM437 220h1v2h-1zM438 219h1v2h-1zM439 221h1v1h-1zM440 220h1v1h-1zM441 221h1v1h-1zM442 220h1v1h-1zM443 219h1v2h-1zM444 218h1v2h-1zM445 220h1v2h-1zM446 218h1v2h-1zM447 220h1v2h-1zM448 222h1v3h-1zM449 225h1v3h-1zM450 228h1v3h-1zM451 231h1v2h-1zM452 233h1v2h-1zM453 235h1v3h-1zM454 238h1v2h-1zM455 238h1v3h-1zM456 241h1v2h-1zM457 242h1v3h-1zM458 245h1v3h-1zM459 248h1v1h-1zM460 247h1v1h-1zM461 245h1v3h-1zM462 243h1v2h-1zM463 242h1v1h-1zM464 242h1v2h-1zM465 239h1v3h-1zM466 237h1v2h-1zM467 235h1v2h-1zM468 233h1v2h-1zM469 232h1v2h-1zM470 230h1v2h-1zM471 230h1v1h-1zM472 229h1v1h-1zM473 228h1v3h-1zM474 231h1v2h-1zM475 229h1v2h-1zM476 229h1v2h-1zM477 230h1v2h-1zM478 229h1v1h-1zM479 229h1v2h-1zM480 231h1v2h-1zM481 231h1v1h-1zM482 231h1v2h-1zM483 229h1v2h-1zM484 230h1v2h-1zM485 229h1v1h-1zM486 227h1v2h-1zM487 226h1v1h-1zM488 225h1v2h-1zM489 227h1v1h-1zM490 226h1v2h-1zM491 228h1v2h-1zM492 230h1v1h-1zM493 231h1v2h-1zM494 233h1v4h-1zM495 234h1v5h-1zM496 229h1v5h-1zM497 226h1v3h-1zM498 225h1v1h-1zM499 226h1v2h-1zM500 228h1v2h-1zM501 229h1v1h-1zM502 227h1v2h-1zM503 226h1v2h-1zM504 228h1v1h-1zM505 227h1v1h-1zM506 227h1v2h-1zM507 225h1v2h-1zM508 222h1v4h-1zM509 218h1v4h-1zM510 215h1v3h-1zM511 214h1v1h-1zM512 213h1v3h-1zM513 216h1v4h-1zM514 220h1v1h-1zM515 219h1v2h-1zM516 220h1v2h-1zM517 218h1v2h-1zM518 219h1v2h-1zM519 218h1v3h-1zM520 221h1v2h-1zM521 221h1v1h-1zM522 221h1v2h-1zM523 223h1v1h-1zM524 223h1v1h-1zM525 223h1v2h-1zM526 222h1v1h-1zM527 222h1v3h-1zM528 225h1v3h-1zM529 227h1v3h-1zM530 227h1v5h-1zM531 221h1v6h-1zM532 217h1v4h-1zM533 215h1v2h-1zM534 214h1v3h-1zM535 212h1v2h-1zM536 211h1v3h-1zM537 208h1v3h-1zM538 207h1v1h-1zM539 207h1v2h-1zM540 205h1v2h-1zM541 205h1v2h-1zM542 203h1v2h-1zM543 200h1v4h-1zM544 194h1v6h-1zM545 192h1v2h-1zM546 194h1v3h-1zM547 197h1v3h-1zM548 200h1v2h-1zM549 202h1v3h-1zM550 204h1v2h-1zM551 202h1v2h-1zM552 201h1v2h-1zM553 203h1v2h-1zM554 202h1v1h-1zM555 202h1v2h-1zM556 200h1v2h-1zM557 200h1v2h-1zM558 202h1v2h-1zM559 201h1v2h-1zM560 203h1v2h-1zM561 203h1v2h-1zM562 203h1v3h-1zM563 201h1v2h-1zM564 202h1v1h-1zM565 202h1v2h-1zM566 200h1v2h-1zM567 201h1v2h-1zM568 203h1v2h-1zM569 202h1v2h-1zM570 204h1v2h-1zM571 204h1v2h-1zM572 205h1v2h-1zM573 203h1v2h-1zM574 204h1v2h-1zM575 206h1v2h-1zM576 205h1v2h-1zM577 207h1v2h-1zM578 207h1v3h-1zM579 210h1v2h-1zM580 212h1v5h-1zM581 217h1v7h-1zM582 221h1v6h-1zM583 214h1v7h-1zM584 210h1v4h-1zM585 208h1v2h-1zM586 210h1v2h-1zM587 209h1v1h-1zM588 210h1v1h-1zM589 209h1v1h-1zM590 210h1v2h-1zM591 212h1v2h-1zM592 212h1v2h-1zM593 211h1v1h-1zM594 211h1v1h-1zM595 208h1v3h-1zM596 205h1v3h-1zM597 199h1v6h-1zM598 194h1v5h-1zM599 199h1v8h-1zM600 207h1v5h-1zM601 212h1v1h-1zM602 212h1v2h-1zM603 213h1v2h-1zM604 212h1v2h-1zM605 214h1v2h-1zM606 215h1v2h-1zM607 213h1v2h-1zM608 213h1v2h-1zM609 215h1v2h-1zM610 214h1v2h-1zM611 216h1v2h-1zM612 215h1v2h-1zM613 217h1v2h-1zM614 217h1v2h-1zM615 219h1v1h-1zM616 218h1v1h-1zM617 219h1v2h-1zM618 221h1v2h-1zM619 220h1v2h-1zM620 222h1v1h-1z" fill="#00c000"/>
<path d="M581 74h29v1h-29zM54 144h1v1h-1zM55 141h1v3h-1zM56 136h1v5h-1zM57 130h1v6h-1zM58 127h1v3h-1zM59 130h1v4h-1zM60 134h1v3h-1zM61 137h1v4h-1zM62 139h1v1h-1zM63 139h1v2h-1zM64 141h1v3h-1zM65 144h1v2h-1zM66 146h1v3h-1zM67 149h1v4h-1zM68 153h1v6h-1zM69 159h1v3h-1zM70 157h1v3h-1zM71 160h1v5h-1zM72 165h1v3h-1zM73 168h1v1h-1zM74 165h1v5h-1zM75 169h1v7h-1zM76 176h1v4h-1zM77 172h1v5h-1zM78 177h1v5h-1zM79 182h1v1h-1zM80 183h1v3h-1zM81 186h1v2h-1zM82 188h1v4h-1zM83 192h1v3h-1zM84 191h1v2h-1zM85 189h1v2h-1zM86 188h1v1h-1zM87 187h1v2h-1zM88 189h1v1h-1zM89 189h1v2h-1zM90 191h1v2h-1zM91 193h1v3h-1zM92 196h1v2h-1zM93 198h1v2h-1zM94 199h1v2h-1zM95 198h1v1h-1zM96 197h1v3h-1zM97 200h1v2h-1zM98 202h1v2h-1zM99 204h1v3h-1zM100 207h1v3h-1zM101 210h1v4h-1zM102 214h1v6h-1zM103 220h1v3h-1zM104 223h1v1h-1zM105 224h1v1h-1zM106 224h1v1h-1zM107 225h1v3h-1zM108 228h1v2h-1zM109 230h1v3h-1zM110 233h1v2h-1zM111 234h1v3h-1zM112 237h1v3h-1zM113 240h1v2h-1zM114 242h1v2h-1zM115 240h1v2h-1zM116 238h1v2h-1zM117 237h1v1h-1zM118 236h1v1h-1zM119 235h1v2h-1zM120 237h1v1h-1zM121 237h1v2h-1zM122 235h1v2h-1zM123 235h1v1h-1zM124 231h1v5h-1zM125 222h1v9h-1zM126 217h1v5h-1zM127 222h1v7h-1zM128 229h1v4h-1zM129 233h1v2h-1zM130 233h1v2h-1zM131 235h1v3h-1zM132 238h1v1h-1zM133 237h1v1h-1zM134 237h1v1h-1zM135 236h1v1h-1zM136 237h1v1h-1zM137 236h1v2h-1zM138 238h1v1h-1zM139 238h1v1h-1zM140 237h1v1h-1zM141 237h1v3h-1zM142 240h1v3h-1zM143 243h1v1h-1zM144 243h1v1h-1zM145 243h1v1h-1zM146 243h1v2h-1zM147 245h1v1h-1zM148 246h1v1h-1zM149 247h1v1h-1zM150 246h1v1h-1zM151 246h1v2h-1zM152 248h1v1h-1zM153 249h1v3h-1zM154 252h1v2h-1zM155 249h1v3h-1zM156 247h1v2h-1zM157 245h1v2h-1zM158 247h1v3h-1zM159 250h1v1h-1zM160 246h1v6h-1zM161 235h1v11h-1zM162 230h1v6h-1zM163 236h1v8h-1zM164 244h1v5h-1zM165 249h1v2h-1zM166 250h1v2h-1zM167 252h1v1h-1zM168 251h1v2h-1zM169 253h1v1h-1zM170 253h1v1h-1zM171 252h1v3h-1zM172 249h1v3h-1zM173 248h1v1h-1zM174 247h1v1h-1zM175 247h1v1h-1zM176 248h1v3h-1zM177 251h1v3h-1zM178 252h1v1h-1zM179 252h1v1h-1zM180 253h1v2h-1zM181 255h1v1h-1zM182 256h1v1h-1zM183 257h1v1h-1zM184 257h1v1h-1zM185 257h1v3h-1zM186 260h1v22h-1zM187 282h1v14h-1zM188 296h1v5h-1zM189 289h1v8h-1zM190 280h1v9h-1zM191 263h1v17h-1zM192 258h1v5h-1zM193 259h1v1h-1zM194 260h1v1h-1zM195 260h1v1h-1zM196 260h1v1h-1zM197 258h1v3h-1zM198 256h1v2h-1zM199 255h1v2h-1zM200 257h1v1h-1zM201 257h1v1h-1zM202 248h1v9h-1zM203 228h1v20h-1zM204 215h1v13h-1zM205 221h1v12h-1zM206 233h1v25h-1zM207 258h1v5h-1zM208 262h1v1h-1zM209 263h1v1h-1zM210 263h1v1h-1zM211 264h1v1h-1zM212 263h1v1h-1zM213 262h1v1h-1zM214 261h1v1h-1zM215 259h1v2h-1zM216 253h1v6h-1zM217 248h1v5h-1zM218 251h1v5h-1zM219 256h1v4h-1zM220 260h1v3h-1zM221 263h1v2h-1zM222 265h1v3h-1zM223 268h1v2h-1zM224 270h1v1h-1zM225 269h1v1h-1zM226 267h1v3h-1zM227 264h1v3h-1zM228 262h1v5h-1zM229 267h1v4h-1zM230 266h1v3h-1zM231 265h1v1h-1zM232 266h1v1h-1zM233 266h1v1h-1zM234 267h1v2h-1zM235 269h1v2h-1zM236 270h1v3h-1zM237 273h1v3h-1zM238 276h1v1h-1zM239 276h1v1h-1zM240 277h1v1h-1zM241 276h1v2h-1zM242 272h1v4h-1zM243 269h1v3h-1zM244 267h1v2h-1zM245 266h1v1h-1zM246 265h1v2h-1zM247 267h1v1h-1zM248 268h1v2h-1zM249 270h1v3h-1zM250 273h1v3h-1zM251 275h1v2h-1zM252 273h1v2h-1zM253 273h1v1h-1zM254 272h1v2h-1zM255 274h1v1h-1zM256 274h1v1h-1zM257 275h1v1h-1zM258 275h1v2h-1zM259 276h1v2h-1zM260 274h1v2h-1zM261 273h1v1h-1zM262 273h1v1h-1zM263 273h1v2h-1zM264 275h1v2h-1zM265 276h1v1h-1zM266 277h1v1h-1zM267 277h1v1h-1zM268 278h1v1h-1zM269 278h1v1h-1zM270 279h1v1h-1zM271 278h1v1h-1zM272 279h1v1h-1zM273 280h1v1h-1zM274 280h1v2h-1zM275 278h1v2h-1zM276 277h1v2h-1zM277 279h1v2h-1zM278 281h1v2h-1zM279 280h1v1h-1zM280 277h1v4h-1zM281 272h1v5h-1zM282 270h1v3h-1zM283 273h1v3h-1zM284 276h1v3h-1zM285 279h1v5h-1zM286 284h1v2h-1zM287 281h1v3h-1zM288 280h1v1h-1zM289 280h1v2h-1zM290 282h1v3h-1zM291 285h1v3h-1zM292 288h1v2h-1zM293 290h1v2h-1zM294 292h1v1h-1zM295 292h1v1h-1zM296 291h1v1h-1zM297 292h1v2h-1zM298 294h1v3h-1zM299 297h1v3h-1zM300 300h1v3h-1zM301 302h1v2h-1zM302 301h1v2h-1zM303 303h1v4h-1zM304 307h1v3h-1zM305 310h1v1h-1zM306 310h1v7h-1zM307 317h1v7h-1zM308 314h1v6h-1zM309 309h1v5h-1zM310 306h1v3h-1zM311 305h1v5h-1zM312 310h1v4h-1zM313 304h1v6h-1zM314 300h1v4h-1zM315 296h1v4h-1zM316 293h1v3h-1zM317 291h1v2h-1zM318 290h1v3h-1zM319 293h1v4h-1zM320 297h1v3h-1zM321 297h1v4h-1zM322 294h1v3h-1zM323 292h1v2h-1zM324 290h1v3h-1zM325 293h1v2h-1zM326 295h1v3h-1zM327 298h1v3h-1zM328 298h1v1h-1zM329 298h1v2h-1zM330 300h1v2h-1zM331 301h1v2h-1zM332 298h1v3h-1zM333 297h1v1h-1zM334 296h1v4h-1zM335 300h1v5h-1zM336 305h1v2h-1zM337 304h1v1h-1zM338 303h1v3h-1zM339 305h1v3h-1zM340 302h1v3h-1zM341 301h1v2h-1zM342 303h1v2h-1zM343 303h1v2h-1zM344 305h1v2h-1zM345 307h1v1h-1zM346 307h1v1h-1zM347 306h1v1h-1zM348 307h1v1h-1zM349 307h1v1h-1zM350 305h1v2h-1zM351 304h1v2h-1zM352 306h1v1h-1zM353 307h1v2h-1zM354 309h1v2h-1zM355 311h1v3h-1zM356 313h1v2h-1zM357 311h1v2h-1zM358 309h1v2h-1zM359 308h1v1h-1zM360 307h1v3h-1zM361 310h1v6h-1zM362 316h1v3h-1zM363 317h1v1h-1zM364 315h1v3h-1zM365 311h1v4h-1zM366 310h1v3h-1zM367 313h1v3h-1zM368 315h1v1h-1zM369 316h1v4h-1zM370 320h1v3h-1zM371 323h1v1h-1zM372 323h1v2h-1zM373 325h1v1h-1zM374 325h1v1h-1zM375 326h1v1h-1zM376 326h1v1h-1zM377 327h1v1h-1zM378 327h1v1h-1zM379 328h1v1h-1zM380 328h1v1h-1zM381 328h1v2h-1zM382 330h1v4h-1zM383 334h1v3h-1zM384 337h1v2h-1zM385 339h1v3h-1zM386 342h1v1h-1zM387 341h1v3h-1zM388 339h1v2h-1zM389 335h1v4h-1zM390 332h1v3h-1zM391 330h1v3h-1zM392 326h1v4h-1zM393 324h1v2h-1zM394 322h1v2h-1zM395 321h1v1h-1zM396 320h1v1h-1zM397 320h1v2h-1zM398 319h1v1h-1zM399 319h1v1h-1zM400 318h1v1h-1zM401 318h1v1h-1zM402 317h1v3h-1zM403 316h1v2h-1zM404 315h1v1h-1zM405 315h1v1h-1zM406 314h1v1h-1zM407 314h1v1h-1zM408 313h1v1h-1zM409 313h1v2h-1zM410 315h1v1h-1zM411 316h1v2h-1zM412 316h1v3h-1zM413 313h1v3h-1zM414 313h1v1h-1zM415 314h1v1h-1zM416 313h1v1h-1zM417 314h1v1h-1zM418 314h1v1h-1zM419 315h1v1h-1zM420 316h1v1h-1zM421 317h1v1h-1zM422 317h1v2h-1zM423 315h1v2h-1zM424 314h1v1h-1zM425 315h1v1h-1zM426 315h1v1h-1zM427 316h1v1h-1zM428 317h1v1h-1zM429 318h1v3h-1zM430 317h1v2h-1zM431 315h1v2h-1zM432 313h1v2h-1zM433 312h1v3h-1zM434 315h1v3h-1zM435 314h1v2h-1zM436 313h1v2h-1zM437 315h1v2h-1zM438 315h1v1h-1zM439 315h1v1h-1zM440 315h1v2h-1zM441 317h1v1h-1zM442 316h1v1h-1zM443 315h1v2h-1zM444 316h1v3h-1zM445 313h1v3h-1zM446 311h1v4h-1zM447 315h1v3h-1zM448 317h1v2h-1zM449 319h1v2h-1zM450 321h1v3h-1zM451 324h1v2h-1zM452 323h1v1h-1zM453 322h1v2h-1zM454 324h1v2h-1zM455 323h1v1h-1zM456 322h1v1h-1zM457 323h1v2h-1zM458 324h1v2h-1zM459 323h1v1h-1zM460 322h1v1h-1zM461 322h1v1h-1zM462 323h1v1h-1zM463 322h1v1h-1zM464 322h1v1h-1zM465 321h1v1h-1zM466 320h1v2h-1zM467 322h1v1h-1zM468 323h1v1h-1zM469 322h1v1h-1zM470 321h1v2h-1zM471 319h1v4h-1zM472 323h1v3h-1zM473 324h1v1h-1zM474 324h1v1h-1zM475 323h1v2h-1zM476 325h1v3h-1zM477 328h1v1h-1zM478 328h1v1h-1zM479 327h1v1h-1zM480 328h1v2h-1zM481 330h1v1h-1zM482 330h1v2h-1zM483 328h1v2h-1zM484 327h1v1h-1zM485 326h1v1h-1zM486 325h1v1h-1zM487 324h1v1h-1zM488 325h1v1h-1zM489 325h1v2h-1zM490 327h1v1h-1zM491 327h1v1h-1zM492 328h1v1h-1zM493 328h1v4h-1zM494 332h1v5h-1zM495 334h1v5h-1zM496 329h1v5h-1zM497 325h1v4h-1zM498 323h1v2h-1zM499 325h1v3h-1zM500 327h1v2h-1zM501 326h1v1h-1zM502 326h1v1h-1zM503 325h1v1h-1zM504 325h1v1h-1zM505 325h1v1h-1zM506 325h1v4h-1zM507 329h1v4h-1zM508 325h1v4h-1zM509 320h1v5h-1zM510 315h1v5h-1zM511 313h1v2h-1zM512 312h1v4h-1zM513 316h1v5h-1zM514 321h1v4h-1zM515 323h1v3h-1zM516 321h1v2h-1zM517 321h1v1h-1zM518 322h1v1h-1zM519 323h1v2h-1zM520 325h1v3h-1zM521 328h1v1h-1zM522 329h1v2h-1zM523 331h1v1h-1zM524 332h1v1h-1zM525 331h1v1h-1zM526 330h1v1h-1zM527 330h1v1h-1zM528 331h1v1h-1zM529 332h1v4h-1zM530 336h1v3h-1zM531 333h1v3h-1zM532 331h1v2h-1zM533 329h1v2h-1zM534 328h1v2h-1zM535 327h1v1h-1zM536 327h1v1h-1zM537 326h1v1h-1zM538 325h1v2h-1zM539 327h1v1h-1zM540 326h1v1h-1zM541 324h1v2h-1zM542 322h1v2h-1zM543 321h1v1h-1zM544 318h1v3h-1zM545 315h1v3h-1zM546 314h1v2h-1zM547 316h1v1h-1zM548 317h1v6h-1zM549 323h1v6h-1zM550 329h1v3h-1zM551 331h1v2h-1zM552 330h1v1h-1zM553 329h1v2h-1zM554 328h1v1h-1zM555 327h1v1h-1zM556 326h1v2h-1zM557 325h1v1h-1zM558 325h1v2h-1zM559 327h1v2h-1zM560 329h1v3h-1zM561 332h1v2h-1zM562 334h1v2h-1zM563 334h1v1h-1zM564 333h1v1h-1zM565 331h1v2h-1zM566 330h1v1h-1zM567 329h1v1h-1zM568 329h1v1h-1zM569 328h1v2h-1zM570 330h1v1h-1zM571 331h1v3h-1zM572 334h1v3h-1zM573 336h1v1h-1zM574 336h1v2h-1zM575 333h1v3h-1zM576 332h1v1h-1zM577 333h1v1h-1zM578 334h1v1h-1zM579 334h1v1h-1zM580 335h1v3h-1zM581 338h1v5h-1zM582 343h1v2h-1zM583 339h1v4h-1zM584 336h1v3h-1zM585 334h1v2h-1zM586 333h1v1h-1zM587 332h1v2h-1zM588 331h1v1h-1zM589 331h1v2h-1zM590 333h1v1h-1zM591 332h1v2h-1zM592 330h1v2h-1zM593 330h1v1h-1zM594 328h1v2h-1zM595 326h1v2h-1zM596 322h1v4h-1zM597 317h1v5h-1zM598 315h1v2h-1zM599 314h1v2h-1zM600 316h1v6h-1zM601 322h1v8h-1zM602 330h1v4h-1zM603 332h1v1h-1zM604 331h1v1h-1zM605 330h1v3h-1zM606 328h1v2h-1zM607 327h1v2h-1zM608 326h1v3h-1zM609 329h1v3h-1zM610 332h1v1h-1zM611 332h1v1h-1zM612 333h1v1h-1zM613 333h1v2h-1zM614 332h1v1h-1zM615 330h1v2h-1zM616 329h1v1h-1zM617 328h1v1h-1zM618 328h1v3h-1zM619 331h1v2h-1zM620 330h1v1h-1z" fill="#0080ff"/>
<path d="M581 87h29v1h-29zM54 260h1v1h-1zM55 259h1v2h-1zM56 258h1v1h-1zM57 258h1v2h-1zM58 260h1v1h-1zM59 260h1v2h-1zM60 258h1v2h-1zM61 256h1v3h-1zM62 253h1v3h-1zM63 254h1v1h-1zM64 254h1v2h-1zM65 253h1v1h-1zM66 253h1v1h-1zM67 254h1v1h-1zM68 255h1v1h-1zM69 254h1v1h-1zM70 254h1v1h-1zM71 255h1v1h-1zM72 255h1v2h-1zM73 254h1v1h-1zM74 255h1v2h-1zM75 257h1v1h-1zM76 257h1v2h-1zM77 258h1v2h-1zM78 257h1v1h-1zM79 257h1v2h-1zM80 259h1v1h-1zM81 259h1v3h-1zM82 262h1v4h-1zM83 266h1v2h-1zM84 265h1v1h-1zM85 263h1v2h-1zM86 261h1v2h-1zM87 259h1v2h-1zM88 258h1v1h-1zM89 257h1v1h-1zM90 256h1v1h-1zM91 255h1v1h-1zM92 256h1v1h-1zM93 256h1v2h-1zM94 258h1v1h-1zM95 257h1v1h-1zM96 256h1v2h-1zM97 251h1v5h-1zM98 246h1v5h-1zM99 244h1v2h-1zM100 243h1v3h-1zM101 246h1v5h-1zM102 251h1v4h-1zM103 255h1v2h-1zM104 256h1v2h-1zM105 255h1v1h-1zM106 253h1v2h-1zM107 252h1v1h-1zM108 253h1v1h-1zM109 252h1v2h-1zM110 251h1v1h-1zM111 250h1v1h-1zM112 250h1v1h-1zM113 249h1v1h-1zM114 248h1v2h-1zM115 250h1v1h-1zM116 251h1v2h-1zM117 253h1v2h-1zM118 255h1v2h-1zM119 257h1v1h-1zM120 256h1v1h-1zM121 255h1v1h-1zM122 254h1v2h-1zM123 253h1v1h-1zM124 253h1v2h-1zM125 252h1v1h-1zM126 251h1v1h-1zM127 250h1v1h-1zM128 251h1v1h-1zM129 249h1v3h-1zM130 247h1v2h-1zM131 246h1v2h-1zM132 244h1v2h-1zM133 243h1v1h-1zM134 242h1v1h-1zM135 242h1v1h-1zM136 241h1v1h-1zM137 241h1v1h-1zM138 242h1v1h-1zM139 242h1v1h-1zM140 241h1v1h-1zM141 241h1v2h-1zM142 243h1v1h-1zM143 242h1v1h-1zM144 241h1v2h-1zM145 240h1v1h-1zM146 241h1v1h-1zM147 240h1v1h-1zM148 241h1v1h-1zM149 240h1v1h-1zM150 241h1v1h-1zM151 241h1v1h-1zM152 240h1v1h-1zM153 240h1v1h-1zM154 239h1v2h-1zM155 238h1v1h-1zM156 234h1v4h-1zM157 231h1v3h-1zM158 230h1v1h-1zM159 230h1v1h-1zM160 229h1v2h-1zM161 231h1v2h-1zM162 232h1v1h-1zM163 232h1v1h-1zM164 232h1v2h-1zM165 234h1v2h-1zM166 235h1v3h-1zM167 238h1v3h-1zM168 241h1v2h-1zM169 243h1v2h-1zM170 244h1v1h-1zM171 243h1v3h-1zM172 240h1v3h-1zM173 238h1v2h-1zM174 237h1v1h-1zM175 236h1v1h-1zM176 235h1v2h-1zM177 237h1v1h-1zM178 237h1v1h-1zM179 236h1v1h-1zM180 235h1v1h-1zM181 234h1v2h-1zM182 236h1v1h-1zM183 237h1v2h-1zM184 239h1v1h-1zM185 240h1v3h-1zM186 243h1v7h-1zM187 250h1v24h-1zM188 274h1v10h-1zM189 282h1v5h-1zM190 270h1v12h-1zM191 256h1v14h-1zM192 242h1v14h-1zM193 239h1v3h-1zM194 238h1v1h-1zM195 237h1v1h-1zM196 236h1v1h-1zM197 233h1v3h-1zM198 231h1v2h-1zM199 229h1v2h-1zM200 228h1v1h-1zM201 228h1v1h-1zM202 227h1v1h-1zM203 210h1v18h-1zM204 187h1v23h-1zM205 180h1v7h-1zM206 180h1v26h-1zM207 206h1v17h-1zM208 223h1v7h-1zM209 230h1v3h-1zM210 233h1v1h-1zM211 233h1v2h-1zM212 235h1v1h-1zM213 234h1v1h-1zM214 234h1v1h-1zM215 234h1v1h-1zM216 235h1v1h-1zM217 235h1v2h-1zM218 237h1v2h-1zM219 239h1v1h-1zM220 239h1v1h-1zM221 240h1v1h-1zM222 240h1v2h-1zM223 242h1v1h-1zM224 241h1v1h-1zM225 240h1v1h-1zM226 240h1v1h-1zM227 241h1v1h-1zM228 240h1v1h-1zM229 240h1v1h-1zM230 240h1v1h-1zM231 239h1v1h-1zM232 239h1v2h-1zM233 241h1v1h-1zM234 240h1v1h-1zM235 240h1v1h-1zM236 239h1v1h-1zM237 238h1v1h-1zM238 237h1v1h-1zM239 237h1v2h-1zM240 239h1v1h-1zM241 239h1v1h-1zM242 238h1v2h-1zM243 236h1v2h-1zM244 235h1v2h-1zM245 237h1v1h-1zM246 237h1v1h-1zM247 237h1v1h-1zM248 237h1v2h-1zM249 239h1v1h-1zM250 239h1v1h-1zM251 238h1v2h-1zM252 240h1v1h-1zM253 239h1v1h-1zM254 240h1v1h-1zM255 240h1v2h-1zM256 242h1v1h-1zM257 242h1v2h-1zM258 244h1v1h-1zM259 245h1v2h-1zM260 247h1v2h-1zM261 249h1v2h-1zM262 248h1v1h-1zM263 249h1v1h-1zM264 250h1v1h-1zM265 249h1v2h-1zM266 251h1v1h-1zM267 252h1v1h-1zM268 251h1v2h-1zM269 253h1v1h-1zM270 252h1v1h-1zM271 253h1v1h-1zM272 254h1v1h-1zM273 255h1v1h-1zM274 254h1v1h-1zM275 255h1v1h-1zM276 255h1v1h-1zM277 256h1v3h-1zM278 259h1v8h-1zM279 267h1v9h-1zM280 276h1v6h-1zM281 282h1v7h-1zM282 289h1v6h-1zM283 295h1v4h-1zM284 299h1v3h-1zM285 301h1v1h-1zM286 302h1v1h-1zM287 302h1v2h-1zM288 304h1v1h-1zM289 305h1v1h-1zM290 306h1v1h-1zM291 303h1v4h-1zM292 296h1v7h-1zM293 284h1v12h-1zM294 269h1v15h-1zM295 257h1v12h-1zM296 246h1v11h-1zM297 228h1v18h-1zM298 212h1v16h-1zM299 209h1v3h-1zM300 208h1v1h-1zM301 208h1v1h-1zM302 206h1v2h-1zM303 204h1v2h-1zM304 203h1v1h-1zM305 204h1v3h-1zM306 207h1v3h-1zM307 207h1v1h-1zM308 203h1v4h-1zM309 200h1v4h-1zM310 204h1v7h-1zM311 211h1v11h-1zM312 222h1v11h-1zM313 233h1v7h-1zM314 240h1v2h-1zM315 240h1v1h-1zM316 239h1v1h-1zM317 239h1v1h-1zM318 239h1v1h-1zM319 240h1v4h-1zM320 244h1v4h-1zM321 242h1v4h-1zM322 239h1v3h-1zM323 240h1v1h-1zM324 241h1v4h-1zM325 245h1v6h-1zM326 251h1v2h-1zM327 252h1v2h-1zM328 254h1v1h-1zM329 254h1v2h-1zM330 256h1v1h-1zM331 257h1v1h-1zM332 256h1v1h-1zM333 256h1v1h-1zM334 256h1v2h-1zM335 255h1v1h-1zM336 256h1v1h-1zM337 255h1v2h-1zM338 254h1v1h-1zM339 255h1v1h-1zM340 255h1v2h-1zM341 257h1v1h-1zM342 258h1v1h-1zM343 258h1v2h-1zM344 260h1v1h-1zM345 259h1v1h-1zM346 260h1v2h-1zM347 262h1v1h-1zM348 263h1v1h-1zM349 263h1v2h-1zM350 265h1v1h-1zM351 264h1v2h-1zM352 266h1v1h-1zM353 265h1v2h-1zM354 267h1v1h-1zM355 268h1v1h-1zM356 269h1v1h-1zM357 270h1v1h-1zM358 269h1v1h-1zM359 270h1v1h-1zM360 269h1v1h-1zM361 268h1v1h-1zM362 267h1v2h-1zM363 269h1v1h-1zM364 270h1v1h-1zM365 271h1v1h-1zM366 272h1v1h-1zM367 271h1v2h-1zM368 269h1v2h-1zM369 269h1v1h-1zM370 267h1v2h-1zM371 266h1v1h-1zM372 265h1v1h-1zM373 265h1v1h-1zM374 264h1v2h-1zM375 266h1v1h-1zM376 266h1v3h-1zM377 269h1v3h-1zM378 271h1v1h-1zM379 272h1v1h-1zM380 272h1v1h-1zM381 272h1v2h-1zM382 274h1v3h-1zM383 277h1v3h-1zM384 280h1v2h-1zM385 282h1v3h-1zM386 285h1v3h-1zM387 288h1v2h-1zM388 290h1v2h-1zM389 292h1v2h-1zM390 293h1v3h-1zM391 296h1v2h-1zM392 297h1v2h-1zM393 299h1v1h-1zM394 299h1v1h-1zM395 300h1v1h-1zM396 300h1v2h-1zM397 302h1v1h-1zM398 302h1v1h-1zM399 301h1v1h-1zM400 300h1v1h-1zM401 301h1v1h-1zM402 300h1v1h-1zM403 300h1v1h-1zM404 300h1v2h-1zM405 299h1v1h-1zM406 299h1v2h-1zM407 298h1v1h-1zM408 299h1v1h-1zM409 298h1v2h-1zM410 299h1v2h-1zM411 297h1v2h-1zM412 297h1v1h-1zM413 296h1v1h-1zM414 295h1v2h-1zM415 297h1v1h-1zM416 296h1v2h-1zM417 294h1v2h-1zM418 294h1v1h-1zM419 293h1v2h-1zM420 295h1v1h-1zM421 294h1v2h-1zM422 296h1v1h-1zM423 296h1v2h-1zM424 298h1v1h-1zM425 297h1v2h-1zM426 299h1v1h-1zM427 298h1v1h-1zM428 298h1v1h-1zM429 297h1v2h-1zM430 298h1v3h-1zM431 295h1v3h-1zM432 294h1v1h-1zM433 294h1v1h-1zM434 293h1v2h-1zM435 295h1v1h-1zM436 295h1v2h-1zM437 297h1v1h-1zM438 296h1v2h-1zM439 298h1v1h-1zM440 299h1v1h-1zM441 298h1v2h-1zM442 297h1v1h-1zM443 298h1v1h-1zM444 297h1v1h-1zM445 297h1v1h-1zM446 296h1v2h-1zM447 298h1v1h-1zM448 298h1v2h-1zM449 300h1v1h-1zM450 301h1v2h-1zM451 292h1v12h-1zM452 281h1v11h-1zM453 287h1v17h-1zM454 304h1v1h-1zM455 304h1v2h-1zM456 303h1v1h-1zM457 303h1v1h-1zM458 302h1v2h-1zM459 304h1v1h-1zM460 303h1v1h-1zM461 304h1v1h-1zM462 303h1v1h-1zM463 303h1v1h-1zM464 302h1v2h-1zM465 304h1v1h-1zM466 304h1v2h-1zM467 306h1v1h-1zM468 305h1v2h-1zM469 304h1v2h-1zM470 306h1v1h-1zM471 306h1v2h-1zM472 308h1v1h-1zM473 307h1v1h-1zM474 307h1v1h-1zM475 306h1v2h-1zM476 308h1v1h-1zM477 307h1v2h-1zM478 309h1v1h-1zM479 309h1v1h-1zM480 310h1v1h-1zM481 310h1v2h-1zM482 309h1v1h-1zM483 309h1v1h-1zM484 309h1v1h-1zM485 307h1v2h-1zM486 306h1v1h-1zM487 305h1v1h-1zM488 305h1v1h-1zM489 304h1v2h-1zM490 306h1v1h-1zM491 307h1v2h-1zM492 309h1v1h-1zM493 310h1v3h-1zM494 313h1v4h-1zM495 315h1v4h-1zM496 310h1v5h-1zM497 306h1v4h-1zM498 304h1v3h-1zM499 307h1v3h-1zM500 310h1v1h-1zM501 310h1v1h-1zM502 310h1v1h-1zM503 309h1v1h-1zM504 310h1v1h-1zM505 309h1v1h-1zM506 309h1v2h-1zM507 308h1v1h-1zM508 304h1v4h-1zM509 299h1v5h-1zM510 294h1v5h-1zM511 292h1v3h-1zM512 295h1v5h-1zM513 300h1v4h-1zM514 304h1v2h-1zM515 303h1v1h-1zM516 303h1v1h-1zM517 302h1v2h-1zM518 304h1v2h-1zM519 305h1v2h-1zM520 307h1v1h-1zM521 307h1v2h-1zM522 309h1v1h-1zM523 309h1v1h-1zM524 310h1v1h-1zM525 309h1v1h-1zM526 308h1v2h-1zM527 310h1v2h-1zM528 312h1v3h-1zM529 315h1v5h-1zM530 318h1v4h-1zM531 312h1v6h-1zM532 310h1v2h-1zM533 308h1v2h-1zM534 307h1v1h-1zM535 307h1v1h-1zM536 305h1v2h-1zM537 304h1v1h-1zM538 304h1v1h-1zM539 304h1v1h-1zM540 304h1v1h-1zM541 305h1v1h-1zM542 302h1v3h-1zM543 299h1v3h-1zM544 295h1v4h-1zM545 291h1v4h-1zM546 293h1v3h-1zM547 296h1v4h-1zM548 300h1v5h-1zM549 305h1v1h-1zM550 306h1v2h-1zM551 308h1v1h-1zM552 308h1v2h-1zM553 310h1v1h-1zM554 310h1v2h-1zM555 309h1v1h-1zM556 308h1v1h-1zM557 308h1v2h-1zM558 310h1v1h-1zM559 310h1v1h-1zM560 311h1v1h-1zM561 311h1v1h-1zM562 312h1v1h-1zM563 312h1v1h-1zM564 312h1v2h-1zM565 311h1v1h-1zM566 312h1v1h-1zM567 311h1v2h-1zM568 313h1v2h-1zM569 314h1v1h-1zM570 315h1v1h-1zM571 314h1v1h-1zM572 313h1v2h-1zM573 312h1v1h-1zM574 312h1v2h-1zM575 311h1v1h-1zM576 311h1v2h-1zM577 313h1v1h-1zM578 314h1v3h-1zM579 317h1v3h-1zM580 320h1v5h-1zM581 325h1v5h-1zM582 327h1v6h-1zM583 320h1v7h-1zM584 317h1v3h-1zM585 315h1v2h-1zM586 317h1v1h-1zM587 317h1v1h-1zM588 316h1v2h-1zM589 318h1v1h-1zM590 319h1v1h-1zM591 317h1v2h-1zM592 316h1v1h-1zM593 315h1v1h-1zM594 315h1v1h-1zM595 311h1v4h-1zM596 302h1v9h-1zM597 296h1v6h-1zM598 295h1v4h-1zM599 299h1v8h-1zM600 307h1v5h-1zM601 312h1v2h-1zM602 314h1v2h-1zM603 314h1v1h-1zM604 315h1v1h-1zM605 315h1v2h-1zM606 317h1v1h-1zM607 317h1v1h-1zM608 318h1v1h-1zM609 317h1v2h-1zM610 319h1v1h-1zM611 319h1v2h-1zM612 321h1v1h-1zM613 320h1v1h-1zM614 321h1v2h-1zM615 323h1v1h-1zM616 322h1v1h-1zM617 323h1v1h-1zM618 323h1v1h-1zM619 324h1v1h-1zM620 323h1v1h-1z" fill="#c000ff"/>
<path d="M581 100h29v1h-29zM54 265h1v1h-1zM55 264h1v1h-1zM56 264h1v1h-1zM57 265h1v1h-1zM58 265h1v1h-1zM59 264h1v1h-1zM60 263h1v1h-1zM61 263h1v2h-1zM62 262h1v1h-1zM63 263h1v1h-1zM64 262h1v1h-1zM65 262h1v1h-1zM66 261h1v1h-1zM67 260h1v1h-1zM68 260h1v2h-1zM69 262h1v2h-1zM70 263h1v1h-1zM71 264h1v1h-1zM72 263h1v1h-1zM73 262h1v2h-1zM74 264h1v1h-1zM75 264h1v2h-1zM76 266h1v2h-1zM77 266h1v2h-1zM78 264h1v2h-1zM79 266h1v2h-1zM80 264h1v2h-1zM81 263h1v3h-1zM82 266h1v5h-1zM83 271h1v2h-1zM84 273h1v3h-1zM85 274h1v4h-1zM86 269h1v5h-1zM87 267h1v2h-1zM88 265h1v2h-1zM89 264h1v1h-1zM90 264h1v2h-1zM91 262h1v2h-1zM92 263h1v1h-1zM93 263h1v1h-1zM94 264h1v1h-1zM95 265h1v1h-1zM96 264h1v2h-1zM97 260h1v4h-1zM98 254h1v6h-1zM99 250h1v4h-1zM100 248h1v2h-1zM101 247h1v4h-1zM102 251h1v7h-1zM103 258h1v5h-1zM104 263h1v1h-1zM105 264h1v1h-1zM106 265h1v1h-1zM107 266h1v1h-1zM108 265h1v1h-1zM109 265h1v1h-1zM110 265h1v1h-1zM111 264h1v3h-1zM112 262h1v2h-1zM113 261h1v1h-1zM114 261h1v3h-1zM115 264h1v2h-1zM116 263h1v1h-1zM117 263h1v2h-1zM118 262h1v1h-1zM119 261h1v2h-1zM120 260h1v1h-1zM121 258h1v2h-1zM122 257h1v1h-1zM123 258h1v1h-1zM124 258h1v2h-1zM125 260h1v2h-1zM126 262h1v1h-1zM127 261h1v1h-1zM128 261h1v1h-1zM129 260h1v2h-1zM130 262h1v1h-1zM131 261h1v1h-1zM132 261h1v1h-1zM133 260h1v2h-1zM134 262h1v2h-1zM135 260h1v2h-1zM136 260h1v3h-1zM137 263h1v3h-1zM138 266h1v3h-1zM139 269h1v2h-1zM140 269h1v1h-1zM141 270h1v3h-1zM142 273h1v3h-1zM143 275h1v2h-1zM144 277h1v2h-1zM145 279h1v2h-1zM146 281h1v1h-1zM147 281h1v1h-1zM148 282h1v2h-1zM149 284h1v2h-1zM150 285h1v3h-1zM151 288h1v3h-1zM152 288h1v1h-1zM153 287h1v2h-1zM154 288h1v2h-1zM155 286h1v2h-1zM156 285h1v1h-1zM157 285h1v1h-1zM158 284h1v2h-1zM159 286h1v2h-1zM160 287h1v1h-1zM161 288h1v1h-1zM162 289h1v3h-1zM163 292h1v4h-1zM164 296h1v2h-1zM165 297h1v2h-1zM166 296h1v1h-1zM167 295h1v2h-1zM168 294h1v1h-1zM169 293h1v2h-1zM170 292h1v1h-1zM171 292h1v2h-1zM172 294h1v2h-1zM173 294h1v1h-1zM174 294h1v1h-1zM175 294h1v2h-1zM176 296h1v1h-1zM177 296h1v2h-1zM178 298h1v1h-1zM179 297h1v1h-1zM180 297h1v1h-1zM181 298h1v1h-1zM182 299h1v2h-1zM183 301h1v2h-1zM184 303h1v2h-1zM185 304h1v2h-1zM186 302h1v10h-1zM187 312h1v34h-1zM188 346h1v7h-1zM189 345h1v4h-1zM190 327h1v18h-1zM191 313h1v14h-1zM192 308h1v5h-1zM193 307h1v1h-1zM194 306h1v2h-1zM195 304h1v2h-1zM196 303h1v1h-1zM197 302h1v1h-1zM198 301h1v1h-1zM199 299h1v3h-1zM200 296h1v3h-1zM201 291h1v5h-1zM202 276h1v15h-1zM203 257h1v19h-1zM204 249h1v8h-1zM205 248h1v9h-1zM206 257h1v17h-1zM207 274h1v17h-1zM208 291h1v10h-1zM209 300h1v1h-1zM210 300h1v2h-1zM211 302h1v2h-1zM212 302h1v3h-1zM213 299h1v3h-1zM214 296h1v3h-1zM215 293h1v3h-1zM216 291h1v2h-1zM217 290h1v2h-1zM218 292h1v2h-1zM219 292h1v2h-1zM220 290h1v2h-1zM221 289h1v1h-1zM222 290h1v1h-1zM223 289h1v2h-1zM224 286h1v3h-1zM225 284h1v2h-1zM226 281h1v3h-1zM227 280h1v1h-1zM228 280h1v1h-1zM229 277h1v3h-1zM230 274h1v3h-1zM231 272h1v2h-1zM232 272h1v1h-1zM233 269h1v5h-1zM234 264h1v5h-1zM235 267h1v5h-1zM236 272h1v2h-1zM237 274h1v2h-1zM238 276h1v1h-1zM239 276h1v2h-1zM240 278h1v1h-1zM241 277h1v2h-1zM242 276h1v1h-1zM243 273h1v3h-1zM244 270h1v3h-1zM245 269h1v1h-1zM246 269h1v1h-1zM247 268h1v2h-1zM248 270h1v1h-1zM249 271h1v2h-1zM250 273h1v3h-1zM251 275h1v2h-1zM252 273h1v2h-1zM253 272h1v2h-1zM254 271h1v1h-1zM255 270h1v2h-1zM256 269h1v2h-1zM257 271h1v1h-1zM258 272h1v1h-1zM259 271h1v2h-1zM260 270h1v1h-1zM261 269h1v2h-1zM262 268h1v1h-1zM263 267h1v2h-1zM264 266h1v1h-1zM265 265h1v2h-1zM266 264h1v1h-1zM267 264h1v1h-1zM268 264h1v2h-1zM269 263h1v1h-1zM270 263h1v1h-1zM271 261h1v2h-1zM272 259h1v2h-1zM273 258h1v1h-1zM274 258h1v2h-1zM275 256h1v2h-1zM276 256h1v1h-1zM277 254h1v2h-1zM278 253h1v1h-1zM279 252h1v1h-1zM280 251h1v1h-1zM281 249h1v3h-1zM282 247h1v2h-1zM283 247h1v1h-1zM284 247h1v2h-1zM285 249h1v2h-1zM286 251h1v1h-1zM287 250h1v2h-1zM288 252h1v1h-1zM289 251h1v2h-1zM290 253h1v1h-1zM291 252h1v1h-1zM292 253h1v3h-1zM293 256h1v2h-1zM294 258h1v2h-1zM295 260h1v1h-1zM296 260h1v1h-1zM297 259h1v1h-1zM298 260h1v1h-1zM299 261h1v2h-1zM300 263h1v1h-1zM301 263h1v1h-1zM302 262h1v3h-1zM303 260h1v3h-1zM304 263h1v7h-1zM305 270h1v6h-1zM306 276h1v11h-1zM307 287h1v18h-1zM308 305h1v9h-1zM309 307h1v4h-1zM310 305h1v2h-1zM311 302h1v4h-1zM312 298h1v4h-1zM313 296h1v2h-1zM314 294h1v2h-1zM315 292h1v3h-1zM316 290h1v2h-1zM317 287h1v4h-1zM318 283h1v4h-1zM319 277h1v6h-1zM320 265h1v12h-1zM321 251h1v14h-1zM322 228h1v23h-1zM323 190h1v38h-1zM324 182h1v8h-1zM325 177h1v5h-1zM326 174h1v3h-1zM327 173h1v1h-1zM328 172h1v4h-1zM329 176h1v3h-1zM330 177h1v5h-1zM331 182h1v4h-1zM332 177h1v5h-1zM333 176h1v1h-1zM334 175h1v2h-1zM335 177h1v3h-1zM336 180h1v3h-1zM337 183h1v5h-1zM338 188h1v7h-1zM339 195h1v13h-1zM340 208h1v8h-1zM341 216h1v9h-1zM342 225h1v5h-1zM343 230h1v3h-1zM344 231h1v3h-1zM345 228h1v3h-1zM346 231h1v2h-1zM347 229h1v2h-1zM348 228h1v2h-1zM349 230h1v2h-1zM350 231h1v3h-1zM351 229h1v2h-1zM352 231h1v1h-1zM353 231h1v2h-1zM354 232h1v2h-1zM355 230h1v3h-1zM356 233h1v2h-1zM357 232h1v3h-1zM358 235h1v2h-1zM359 235h1v3h-1zM360 232h1v3h-1zM361 231h1v1h-1zM362 231h1v1h-1zM363 231h1v1h-1zM364 232h1v3h-1zM365 235h1v2h-1zM366 236h1v2h-1zM367 234h1v2h-1zM368 236h1v1h-1zM369 236h1v2h-1zM370 236h1v3h-1zM371 234h1v2h-1zM372 235h1v2h-1zM373 233h1v2h-1zM374 232h1v3h-1zM375 235h1v3h-1zM376 238h1v1h-1zM377 237h1v1h-1zM378 237h1v1h-1zM379 235h1v2h-1zM380 233h1v2h-1zM381 232h1v1h-1zM382 233h1v1h-1zM383 234h1v3h-1zM384 237h1v4h-1zM385 241h1v1h-1zM386 240h1v2h-1zM387 239h1v1h-1zM388 238h1v1h-1zM389 238h1v3h-1zM390 241h1v3h-1zM391 243h1v3h-1zM392 246h1v3h-1zM393 246h1v2h-1zM394 248h1v2h-1zM395 248h1v3h-1zM396 251h1v2h-1zM397 251h1v2h-1zM398 253h1v2h-1zM399 253h1v2h-1zM400 255h1v2h-1zM401 255h1v2h-1zM402 257h1v1h-1zM403 256h1v3h-1zM404 259h1v2h-1zM405 259h1v3h-1zM406 262h1v2h-1zM407 262h1v3h-1zM408 265h1v2h-1zM409 264h1v4h-1zM410 268h1v4h-1zM411 272h1v1h-1zM412 272h1v3h-1zM413 275h1v3h-1zM414 277h1v2h-1zM415 279h1v2h-1zM416 279h1v2h-1zM417 280h1v2h-1zM418 278h1v2h-1zM419 279h1v3h-1zM420 282h1v2h-1zM421 282h1v3h-1zM422 285h1v2h-1zM423 285h1v2h-1zM424 287h1v2h-1zM425 287h1v2h-1zM426 289h1v2h-1zM427 290h1v2h-1zM428 292h1v3h-1zM429 295h1v2h-1zM430 295h1v3h-1zM431 291h1v4h-1zM432 290h1v1h-1zM433 290h1v1h-1zM434 289h1v2h-1zM435 286h1v3h-1zM436 282h1v4h-1zM437 278h1v4h-1zM438 275h1v3h-1zM439 271h1v4h-1zM440 269h1v2h-1zM441 264h1v5h-1zM442 259h1v5h-1zM443 256h1v3h-1zM444 253h1v3h-1zM445 251h1v2h-1zM446 250h1v2h-1zM447 248h1v2h-1zM448 250h1v2h-1zM449 251h1v2h-1zM450 250h1v1h-1zM451 249h1v2h-1zM452 251h1v2h-1zM453 251h1v1h-1zM454 251h1v2h-1zM455 248h1v3h-1zM456 246h1v2h-1zM457 245h1v2h-1zM458 247h1v2h-1zM459 248h1v2h-1zM460 246h1v2h-1zM461 245h1v2h-1zM462 244h1v1h-1zM463 244h1v2h-1zM464 246h1v2h-1zM465 246h1v2h-1zM466 248h1v1h-1zM467 246h1v2h-1zM468 245h1v1h-1zM469 245h1v1h-1zM470 245h1v3h-1zM471 248h1v2h-1zM472 249h1v2h-1zM473 247h1v2h-1zM474 248h1v1h-1zM475 248h1v2h-1zM476 250h1v1h-1zM477 250h1v2h-1zM478 252h1v2h-1zM479 254h1v1h-1zM480 253h1v2h-1zM481 255h1v2h-1zM482 255h1v3h-1zM483 253h1v2h-1zM484 254h1v2h-1zM485 253h1v1h-1zM486 254h1v1h-1zM487 254h1v1h-1zM488 253h1v2h-1zM489 254h1v2h-1zM490 253h1v1h-1zM491 254h1v1h-1zM492 255h1v3h-1zM493 258h1v3h-1zM494 258h1v4h-1zM495 255h1v3h-1zM496 251h1v5h-1zM497 246h1v5h-1zM498 245h1v1h-1zM499 245h1v1h-1zM500 244h1v1h-1zM501 243h1v3h-1zM502 241h1v2h-1zM503 240h1v2h-1zM504 238h1v2h-1zM505 239h1v3h-1zM506 237h1v2h-1zM507 237h1v2h-1zM508 234h1v3h-1zM509 231h1v3h-1zM510 229h1v2h-1zM511 229h1v2h-1zM512 231h1v4h-1zM513 235h1v5h-1zM514 239h1v3h-1zM515 237h1v2h-1zM516 236h1v2h-1zM517 238h1v1h-1zM518 237h1v3h-1zM519 240h1v2h-1zM520 241h1v3h-1zM521 244h1v3h-1zM522 247h1v3h-1zM523 250h1v2h-1zM524 251h1v2h-1zM525 250h1v1h-1zM526 250h1v3h-1zM527 253h1v3h-1zM528 256h1v2h-1zM529 258h1v5h-1zM530 263h1v5h-1zM531 256h1v7h-1zM532 253h1v3h-1zM533 251h1v2h-1zM534 251h1v1h-1zM535 250h1v1h-1zM536 248h1v2h-1zM537 247h1v1h-1zM538 247h1v2h-1zM539 246h1v2h-1zM540 247h1v2h-1zM541 245h1v2h-1zM542 243h1v4h-1zM543 237h1v6h-1zM544 234h1v3h-1zM545 233h1v4h-1zM546 237h1v5h-1zM547 242h1v4h-1zM548 246h1v4h-1zM549 250h1v3h-1zM550 252h1v3h-1zM551 255h1v2h-1zM552 257h1v1h-1zM553 256h1v3h-1zM554 254h1v2h-1zM555 254h1v3h-1zM556 251h1v3h-1zM557 251h1v3h-1zM558 249h1v2h-1zM559 249h1v2h-1zM560 247h1v2h-1zM561 247h1v1h-1zM562 247h1v2h-1zM563 245h1v3h-1zM564 248h1v2h-1zM565 249h1v2h-1zM566 247h1v2h-1zM567 248h1v1h-1zM568 247h1v2h-1zM569 249h1v2h-1zM570 249h1v3h-1zM571 252h1v2h-1zM572 252h1v3h-1zM573 250h1v2h-1zM574 250h1v2h-1zM575 248h1v3h-1zM576 251h1v2h-1zM577 252h1v3h-1zM578 255h1v3h-1zM579 258h1v2h-1zM580 260h1v5h-1zM581 265h1v5h-1zM582 266h1v6h-1zM583 256h1v10h-1zM584 249h1v7h-1zM585 246h1v3h-1zM586 248h1v2h-1zM587 247h1v3h-1zM588 244h1v3h-1zM589 246h1v2h-1zM590 246h1v2h-1zM591 244h1v2h-1zM592 244h1v1h-1zM593 241h1v3h-1zM594 238h1v3h-1zM595 236h1v2h-1zM596 230h1v6h-1zM597 221h1v9h-1zM598 216h1v6h-1zM599 222h1v8h-1zM600 230h1v7h-1zM601 237h1v3h-1zM602 234h1v3h-1zM603 233h1v3h-1zM604 231h1v2h-1zM605 231h1v1h-1zM606 232h1v1h-1zM607 231h1v2h-1zM608 229h1v2h-1zM609 229h1v2h-1zM610 227h1v2h-1zM611 226h1v1h-1zM612 227h1v3h-1zM613 230h1v2h-1zM614 230h1v2h-1zM615 228h1v2h-1zM616 230h1v1h-1zM617 229h1v2h-1zM618 230h1v2h-1zM619 228h1v2h-1zM620 229h1v1h-1z" fill="#00eeee"/>
<path d="M54 38h568v1h-568zM54 453h568v1h-568zM54 38h1v416h-1zM621 38h1v416h-1z" fill="#000"/>
</svg></body></html>
